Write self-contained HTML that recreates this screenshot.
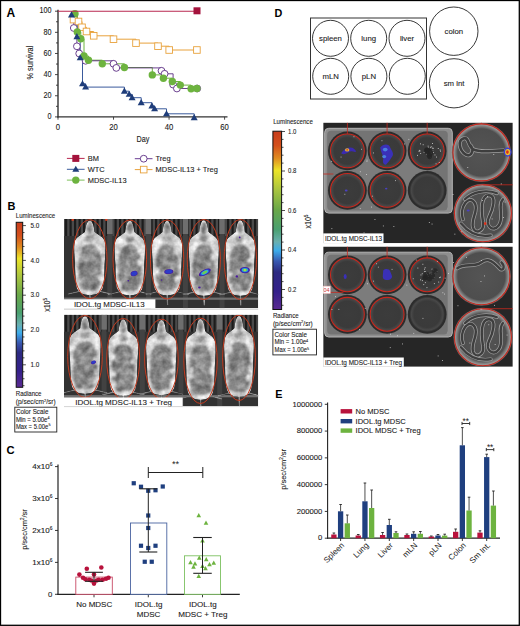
<!DOCTYPE html>
<html><head><meta charset="utf-8"><style>
html,body{margin:0;padding:0;background:#fff;}
svg{display:block;font-family:"Liberation Sans", sans-serif;}
</style></head><body>
<svg width="520" height="626" viewBox="0 0 520 626">
<rect x="0" y="0" width="520" height="626" fill="#fff"/>
<defs>
<linearGradient id="cbg" x1="0" y1="0" x2="0" y2="1">
<stop offset="0" stop-color="#c83c1c"/>
<stop offset="0.08" stop-color="#d4501c"/>
<stop offset="0.15" stop-color="#e08a20"/>
<stop offset="0.22" stop-color="#ece428"/>
<stop offset="0.33" stop-color="#a8c440"/>
<stop offset="0.44" stop-color="#6aa848"/>
<stop offset="0.55" stop-color="#4aa070"/>
<stop offset="0.62" stop-color="#6ab0b0"/>
<stop offset="0.67" stop-color="#3cacea"/>
<stop offset="0.73" stop-color="#3858b0"/>
<stop offset="0.79" stop-color="#2c2a80"/>
<stop offset="0.9" stop-color="#34208a"/>
<stop offset="1" stop-color="#5a2a92"/>
</linearGradient>
<linearGradient id="mouseh" x1="0" y1="0" x2="1" y2="0">
<stop offset="0" stop-color="#bdbdbd"/>
<stop offset="0.1" stop-color="#d8d8d8"/>
<stop offset="0.25" stop-color="#a8a8a8"/>
<stop offset="0.4" stop-color="#8c8c8c"/>
<stop offset="0.6" stop-color="#8c8c8c"/>
<stop offset="0.75" stop-color="#a8a8a8"/>
<stop offset="0.9" stop-color="#d8d8d8"/>
<stop offset="1" stop-color="#bdbdbd"/>
</linearGradient>
<linearGradient id="mousev" x1="0" y1="0" x2="0" y2="1">
<stop offset="0" stop-color="#fff" stop-opacity="0"/>
<stop offset="0.25" stop-color="#fff" stop-opacity="0.25"/>
<stop offset="0.4" stop-color="#fff" stop-opacity="0"/>
<stop offset="1" stop-color="#fff" stop-opacity="0"/>
</linearGradient>
<filter id="soft" x="-50%" y="-50%" width="200%" height="200%"><feGaussianBlur stdDeviation="1.1"/></filter>
<filter id="grain" x="-10%" y="-10%" width="120%" height="120%" color-interpolation-filters="sRGB">
<feTurbulence type="fractalNoise" baseFrequency="0.13" numOctaves="3" seed="5" result="n"/>
<feColorMatrix in="n" type="matrix" values="1 0 0 0 0  1 0 0 0 0  1 0 0 0 0  0 0 0 0 1" result="g"/>
<feComposite in="SourceGraphic" in2="g" operator="arithmetic" k1="0" k2="1" k3="0.44" k4="-0.22" result="m"/>
<feComposite in="m" in2="SourceAlpha" operator="in"/>
</filter>
<radialGradient id="spot" cx="0.5" cy="0.5" r="0.5">
<stop offset="0" stop-color="#a8e060"/>
<stop offset="0.3" stop-color="#40b0e0"/>
<stop offset="0.6" stop-color="#3040c0"/>
<stop offset="1" stop-color="#3a1890"/>
</radialGradient>
<radialGradient id="spot2" cx="0.5" cy="0.5" r="0.5">
<stop offset="0" stop-color="#5080e0"/>
<stop offset="0.5" stop-color="#3a30b0"/>
<stop offset="1" stop-color="#3a1890"/>
</radialGradient>
<radialGradient id="wellg" cx="0.5" cy="0.5" r="0.5">
<stop offset="0" stop-color="#3c3c3c"/>
<stop offset="0.75" stop-color="#3a3a3a"/>
<stop offset="0.9" stop-color="#484848"/>
<stop offset="1" stop-color="#303030"/>
</radialGradient>
<radialGradient id="dishg" cx="0.5" cy="0.5" r="0.5">
<stop offset="0" stop-color="#545454"/>
<stop offset="0.8" stop-color="#4e4e4e"/>
<stop offset="0.88" stop-color="#7a7a7a"/>
<stop offset="0.94" stop-color="#9a9a9a"/>
<stop offset="1" stop-color="#5a5a5a"/>
</radialGradient>
<clipPath id="cB1"><rect x="64" y="219" width="194.2" height="89.3"/></clipPath>
<clipPath id="cB2"><rect x="64" y="314.8" width="194.2" height="91.2"/></clipPath>
<clipPath id="cD1"><rect x="323.2" y="122.6" width="189.6" height="120.6"/></clipPath>
<clipPath id="cD2"><rect x="323.2" y="246.5" width="189.6" height="120.3"/></clipPath>
</defs>
<text transform="translate(6.60,16.58) scale(1.0,1)" font-size="12" text-anchor="start" fill="#000" font-weight="bold" stroke="#000" stroke-width="0">A</text>
<line x1="58" y1="9.7" x2="58" y2="117.60000000000001" stroke="#333" stroke-width="1.4"/>
<line x1="57.3" y1="116.9" x2="227.5" y2="116.9" stroke="#333" stroke-width="1.4"/>
<line x1="55" y1="116.90" x2="58" y2="116.90" stroke="#333" stroke-width="0.9"/>
<text transform="translate(51.60,119.12) scale(0.88,1)" font-size="8.2" text-anchor="end" fill="#1a1a1a" font-weight="normal" stroke="#1a1a1a" stroke-width="0.1">0</text>
<line x1="56" y1="106.33" x2="58" y2="106.33" stroke="#333" stroke-width="0.9"/>
<line x1="55" y1="95.76" x2="58" y2="95.76" stroke="#333" stroke-width="0.9"/>
<text transform="translate(51.60,97.98) scale(0.88,1)" font-size="8.2" text-anchor="end" fill="#1a1a1a" font-weight="normal" stroke="#1a1a1a" stroke-width="0.1">20</text>
<line x1="56" y1="85.19" x2="58" y2="85.19" stroke="#333" stroke-width="0.9"/>
<line x1="55" y1="74.62" x2="58" y2="74.62" stroke="#333" stroke-width="0.9"/>
<text transform="translate(51.60,76.84) scale(0.88,1)" font-size="8.2" text-anchor="end" fill="#1a1a1a" font-weight="normal" stroke="#1a1a1a" stroke-width="0.1">40</text>
<line x1="56" y1="64.05" x2="58" y2="64.05" stroke="#333" stroke-width="0.9"/>
<line x1="55" y1="53.48" x2="58" y2="53.48" stroke="#333" stroke-width="0.9"/>
<text transform="translate(51.60,55.70) scale(0.88,1)" font-size="8.2" text-anchor="end" fill="#1a1a1a" font-weight="normal" stroke="#1a1a1a" stroke-width="0.1">60</text>
<line x1="56" y1="42.91" x2="58" y2="42.91" stroke="#333" stroke-width="0.9"/>
<line x1="55" y1="32.34" x2="58" y2="32.34" stroke="#333" stroke-width="0.9"/>
<text transform="translate(51.60,34.56) scale(0.88,1)" font-size="8.2" text-anchor="end" fill="#1a1a1a" font-weight="normal" stroke="#1a1a1a" stroke-width="0.1">80</text>
<line x1="56" y1="21.77" x2="58" y2="21.77" stroke="#333" stroke-width="0.9"/>
<line x1="55" y1="11.20" x2="58" y2="11.20" stroke="#333" stroke-width="0.9"/>
<text transform="translate(51.60,13.42) scale(0.88,1)" font-size="8.2" text-anchor="end" fill="#1a1a1a" font-weight="normal" stroke="#1a1a1a" stroke-width="0.1">100</text>
<line x1="58.00" y1="116.9" x2="58.00" y2="119.7" stroke="#333" stroke-width="0.9"/>
<text transform="translate(58.00,129.72) scale(0.94,1)" font-size="8.2" text-anchor="middle" fill="#1a1a1a" font-weight="normal" stroke="#1a1a1a" stroke-width="0.1">0</text>
<line x1="113.53" y1="116.9" x2="113.53" y2="119.7" stroke="#333" stroke-width="0.9"/>
<text transform="translate(113.53,129.72) scale(0.94,1)" font-size="8.2" text-anchor="middle" fill="#1a1a1a" font-weight="normal" stroke="#1a1a1a" stroke-width="0.1">20</text>
<line x1="169.07" y1="116.9" x2="169.07" y2="119.7" stroke="#333" stroke-width="0.9"/>
<text transform="translate(169.07,129.72) scale(0.94,1)" font-size="8.2" text-anchor="middle" fill="#1a1a1a" font-weight="normal" stroke="#1a1a1a" stroke-width="0.1">40</text>
<line x1="224.60" y1="116.9" x2="224.60" y2="119.7" stroke="#333" stroke-width="0.9"/>
<text transform="translate(224.60,129.72) scale(0.94,1)" font-size="8.2" text-anchor="middle" fill="#1a1a1a" font-weight="normal" stroke="#1a1a1a" stroke-width="0.1">60</text>
<text transform="translate(143.00,142.36) scale(0.84,1)" font-size="8.6" text-anchor="middle" fill="#1a1a1a" font-weight="normal" stroke="#1a1a1a" stroke-width="0.1">Day</text>
<text transform="translate(32.90,62.70) rotate(-90) scale(0.86,1)" font-size="8.6" text-anchor="middle" fill="#1a1a1a" font-weight="normal" stroke="#1a1a1a" stroke-width="0.1">% survival</text>
<path d="M72.4,11.2 H73.5 V19.6 H78.5 V21.5 H82 V27.3 H86.5 V31.5 H93.7 V35.8 H113.5 V39.2 H136 V43.1 H158 V46.2 H169.2 V50 H196.9 V50" fill="none" stroke="#e8a23c" stroke-width="1"/>
<path d="M75,11.2 H75 V13.8 H77.3 V31.9 H80.8 V38.8 H84 V56 H88.5 V60.2 H102.3 V63.8 H124.4 V67.5 H152.3 V74.9 H163.4 V78.2 H172.3 V81.5 H180.3 V85.1 H191.1 V88.8 H196.9 V88.5" fill="none" stroke="#6db33f" stroke-width="1"/>
<path d="M73.8,11.2 H73.8 V28 H76.9 V46.3 H79.2 V53.5 H85.6 V60.8 H113.5 V63.8 H116.3 V67.9 H161.5 V70.8 H164.6 V73.8 H173.1 V84.6 H176.9 V88.5 H197.2 V88.5" fill="none" stroke="#5b2c83" stroke-width="0.9"/>
<path d="M71.5,11.2 H71.5 V15 H76.9 V36.7 H80.2 V57.9 H82.5 V83.8 H85.6 V87.1 H124.4 V91.2 H129.2 V94.4 H132.1 V97.7 H141.2 V102.7 H151.9 V106 H154.6 V108.8 H166.5 V113.8 H194.2 V117.2" fill="none" stroke="#3a5a9c" stroke-width="1"/>
<rect x="70.20" y="16.30" width="6.6" height="6.6" fill="#fff" stroke="#e8a23c" stroke-width="0.9"/>
<rect x="75.20" y="18.20" width="6.6" height="6.6" fill="#fff" stroke="#e8a23c" stroke-width="0.9"/>
<rect x="78.70" y="24.00" width="6.6" height="6.6" fill="#fff" stroke="#e8a23c" stroke-width="0.9"/>
<rect x="83.20" y="28.20" width="6.6" height="6.6" fill="#fff" stroke="#e8a23c" stroke-width="0.9"/>
<rect x="90.40" y="32.50" width="6.6" height="6.6" fill="#fff" stroke="#e8a23c" stroke-width="0.9"/>
<rect x="110.20" y="35.90" width="6.6" height="6.6" fill="#fff" stroke="#e8a23c" stroke-width="0.9"/>
<rect x="132.70" y="39.80" width="6.6" height="6.6" fill="#fff" stroke="#e8a23c" stroke-width="0.9"/>
<rect x="154.70" y="42.90" width="6.6" height="6.6" fill="#fff" stroke="#e8a23c" stroke-width="0.9"/>
<rect x="165.90" y="46.70" width="6.6" height="6.6" fill="#fff" stroke="#e8a23c" stroke-width="0.9"/>
<rect x="193.60" y="46.70" width="6.6" height="6.6" fill="#fff" stroke="#e8a23c" stroke-width="0.9"/>
<circle cx="73.8" cy="28" r="3.4" fill="#fff" stroke="#5b2c83" stroke-width="0.9"/>
<circle cx="76.9" cy="46.3" r="3.4" fill="#fff" stroke="#5b2c83" stroke-width="0.9"/>
<circle cx="79.2" cy="53.5" r="3.4" fill="#fff" stroke="#5b2c83" stroke-width="0.9"/>
<circle cx="85.6" cy="60.8" r="3.4" fill="#fff" stroke="#5b2c83" stroke-width="0.9"/>
<circle cx="113.5" cy="63.8" r="3.4" fill="#fff" stroke="#5b2c83" stroke-width="0.9"/>
<circle cx="116.3" cy="67.9" r="3.4" fill="#fff" stroke="#5b2c83" stroke-width="0.9"/>
<circle cx="161.5" cy="70.8" r="3.4" fill="#fff" stroke="#5b2c83" stroke-width="0.9"/>
<circle cx="164.6" cy="73.8" r="3.4" fill="#fff" stroke="#5b2c83" stroke-width="0.9"/>
<circle cx="173.1" cy="84.6" r="3.4" fill="#fff" stroke="#5b2c83" stroke-width="0.9"/>
<circle cx="176.9" cy="88.5" r="3.4" fill="#fff" stroke="#5b2c83" stroke-width="0.9"/>
<circle cx="197.2" cy="88.5" r="3.4" fill="#fff" stroke="#5b2c83" stroke-width="0.9"/>
<circle cx="75" cy="13.8" r="3.7" fill="#6db33f"/>
<circle cx="77.3" cy="31.9" r="3.7" fill="#6db33f"/>
<circle cx="80.8" cy="38.8" r="3.7" fill="#6db33f"/>
<circle cx="84" cy="56" r="3.7" fill="#6db33f"/>
<circle cx="88.5" cy="60.2" r="3.7" fill="#6db33f"/>
<circle cx="102.3" cy="63.8" r="3.7" fill="#6db33f"/>
<circle cx="124.4" cy="67.5" r="3.7" fill="#6db33f"/>
<circle cx="152.3" cy="74.9" r="3.7" fill="#6db33f"/>
<circle cx="163.4" cy="78.2" r="3.7" fill="#6db33f"/>
<circle cx="172.3" cy="81.5" r="3.7" fill="#6db33f"/>
<circle cx="180.3" cy="85.1" r="3.7" fill="#6db33f"/>
<circle cx="191.1" cy="88.8" r="3.7" fill="#6db33f"/>
<circle cx="196.9" cy="88.5" r="3.7" fill="#6db33f"/>
<path d="M71.50,11.35 L75.00,17.44 L68.00,17.44Z" fill="#1f3d7a"/>
<path d="M76.90,33.05 L80.40,39.14 L73.40,39.14Z" fill="#1f3d7a"/>
<path d="M80.20,54.25 L83.70,60.34 L76.70,60.34Z" fill="#1f3d7a"/>
<path d="M82.50,80.15 L86.00,86.24 L79.00,86.24Z" fill="#1f3d7a"/>
<path d="M85.60,83.45 L89.10,89.54 L82.10,89.54Z" fill="#1f3d7a"/>
<path d="M124.40,87.55 L127.90,93.64 L120.90,93.64Z" fill="#1f3d7a"/>
<path d="M129.20,90.75 L132.70,96.84 L125.70,96.84Z" fill="#1f3d7a"/>
<path d="M132.10,94.05 L135.60,100.14 L128.60,100.14Z" fill="#1f3d7a"/>
<path d="M141.20,99.05 L144.70,105.14 L137.70,105.14Z" fill="#1f3d7a"/>
<path d="M151.90,102.35 L155.40,108.44 L148.40,108.44Z" fill="#1f3d7a"/>
<path d="M154.60,105.15 L158.10,111.24 L151.10,111.24Z" fill="#1f3d7a"/>
<path d="M166.50,110.15 L170.00,116.24 L163.00,116.24Z" fill="#1f3d7a"/>
<path d="M194.20,114.05 L197.70,120.14 L190.70,120.14Z" fill="#1f3d7a"/>
<line x1="58" y1="11.2" x2="197" y2="11.2" stroke="#b8274f" stroke-width="1.1"/>
<rect x="193.5" y="7.3" width="7" height="7" fill="#a4133c"/>
<line x1="66.9" y1="158.4" x2="84.60000000000001" y2="158.4" stroke="#b8274f" stroke-width="1"/>
<rect x="72.30000000000001" y="154.9" width="7" height="7" fill="#a4133c"/>
<text transform="translate(87.70,160.84) scale(1.05,1)" font-size="7.1" text-anchor="start" fill="#1a1a1a" font-weight="normal" stroke="#1a1a1a" stroke-width="0.1">BM</text>
<line x1="66.9" y1="169.3" x2="84.60000000000001" y2="169.3" stroke="#3a5a9c" stroke-width="1"/>
<path d="M75.80,165.65 L79.30,171.74 L72.30,171.74Z" fill="#1f3d7a"/>
<text transform="translate(87.70,171.74) scale(1.05,1)" font-size="7.1" text-anchor="start" fill="#1a1a1a" font-weight="normal" stroke="#1a1a1a" stroke-width="0.1">WTC</text>
<line x1="66.9" y1="180.1" x2="84.60000000000001" y2="180.1" stroke="#7cc05a" stroke-width="1"/>
<circle cx="75.80000000000001" cy="180.1" r="3.7" fill="#6db33f"/>
<text transform="translate(87.70,182.54) scale(1.05,1)" font-size="7.1" text-anchor="start" fill="#1a1a1a" font-weight="normal" stroke="#1a1a1a" stroke-width="0.1">MDSC-IL13</text>
<line x1="134.8" y1="158.7" x2="152.5" y2="158.7" stroke="#6b3d93" stroke-width="1"/>
<circle cx="143.70000000000002" cy="158.7" r="3.4" fill="#fff" stroke="#5b2c83" stroke-width="0.9"/>
<text transform="translate(155.60,161.14) scale(1.05,1)" font-size="7.1" text-anchor="start" fill="#1a1a1a" font-weight="normal" stroke="#1a1a1a" stroke-width="0.1">Treg</text>
<line x1="134.8" y1="169.6" x2="152.5" y2="169.6" stroke="#e8a23c" stroke-width="1"/>
<rect x="140.4" y="166.29999999999998" width="6.6" height="6.6" fill="#fff" stroke="#e8a23c" stroke-width="0.9"/>
<text transform="translate(155.60,172.04) scale(1.05,1)" font-size="7.1" text-anchor="start" fill="#1a1a1a" font-weight="normal" stroke="#1a1a1a" stroke-width="0.1">MDSC-IL13 + Treg</text>
<text transform="translate(7.40,209.78) scale(1.0,1)" font-size="11" text-anchor="start" fill="#000" font-weight="bold" stroke="#000" stroke-width="0">B</text>
<text transform="translate(15.80,218.18) scale(0.85,1)" font-size="7.2" text-anchor="start" fill="#222" font-weight="normal" stroke="#222" stroke-width="0.1">Luminescence</text>
<rect x="16.2" y="222.3" width="6.5" height="165.0" fill="url(#cbg)" stroke="#111" stroke-width="1"/>
<line x1="22.7" y1="225.60" x2="25.9" y2="225.60" stroke="#222" stroke-width="0.8"/>
<text transform="translate(30.50,227.81) scale(0.91,1)" font-size="7.0" text-anchor="start" fill="#222" font-weight="normal" stroke="#222" stroke-width="0.1">5.0</text>
<line x1="22.7" y1="232.56" x2="24.5" y2="232.56" stroke="#222" stroke-width="0.8"/>
<line x1="22.7" y1="239.52" x2="24.5" y2="239.52" stroke="#222" stroke-width="0.8"/>
<line x1="22.7" y1="246.48" x2="24.5" y2="246.48" stroke="#222" stroke-width="0.8"/>
<line x1="22.7" y1="253.44" x2="24.5" y2="253.44" stroke="#222" stroke-width="0.8"/>
<line x1="22.7" y1="260.40" x2="25.9" y2="260.40" stroke="#222" stroke-width="0.8"/>
<text transform="translate(30.50,262.61) scale(0.91,1)" font-size="7.0" text-anchor="start" fill="#222" font-weight="normal" stroke="#222" stroke-width="0.1">4.0</text>
<line x1="22.7" y1="267.36" x2="24.5" y2="267.36" stroke="#222" stroke-width="0.8"/>
<line x1="22.7" y1="274.32" x2="24.5" y2="274.32" stroke="#222" stroke-width="0.8"/>
<line x1="22.7" y1="281.28" x2="24.5" y2="281.28" stroke="#222" stroke-width="0.8"/>
<line x1="22.7" y1="288.24" x2="24.5" y2="288.24" stroke="#222" stroke-width="0.8"/>
<line x1="22.7" y1="295.20" x2="25.9" y2="295.20" stroke="#222" stroke-width="0.8"/>
<text transform="translate(30.50,297.41) scale(0.91,1)" font-size="7.0" text-anchor="start" fill="#222" font-weight="normal" stroke="#222" stroke-width="0.1">3.0</text>
<line x1="22.7" y1="302.16" x2="24.5" y2="302.16" stroke="#222" stroke-width="0.8"/>
<line x1="22.7" y1="309.12" x2="24.5" y2="309.12" stroke="#222" stroke-width="0.8"/>
<line x1="22.7" y1="316.08" x2="24.5" y2="316.08" stroke="#222" stroke-width="0.8"/>
<line x1="22.7" y1="323.04" x2="24.5" y2="323.04" stroke="#222" stroke-width="0.8"/>
<line x1="22.7" y1="330.00" x2="25.9" y2="330.00" stroke="#222" stroke-width="0.8"/>
<text transform="translate(30.50,332.21) scale(0.91,1)" font-size="7.0" text-anchor="start" fill="#222" font-weight="normal" stroke="#222" stroke-width="0.1">2.0</text>
<line x1="22.7" y1="336.96" x2="24.5" y2="336.96" stroke="#222" stroke-width="0.8"/>
<line x1="22.7" y1="343.92" x2="24.5" y2="343.92" stroke="#222" stroke-width="0.8"/>
<line x1="22.7" y1="350.88" x2="24.5" y2="350.88" stroke="#222" stroke-width="0.8"/>
<line x1="22.7" y1="357.84" x2="24.5" y2="357.84" stroke="#222" stroke-width="0.8"/>
<line x1="22.7" y1="364.80" x2="25.9" y2="364.80" stroke="#222" stroke-width="0.8"/>
<text transform="translate(30.50,367.01) scale(0.91,1)" font-size="7.0" text-anchor="start" fill="#222" font-weight="normal" stroke="#222" stroke-width="0.1">1.0</text>
<line x1="22.7" y1="371.76" x2="24.5" y2="371.76" stroke="#222" stroke-width="0.8"/>
<line x1="22.7" y1="378.72" x2="24.5" y2="378.72" stroke="#222" stroke-width="0.8"/>
<line x1="22.7" y1="385.68" x2="24.5" y2="385.68" stroke="#222" stroke-width="0.8"/>
<text transform="translate(50.00,305.00) rotate(-90) scale(0.85,1)" font-size="8.3" text-anchor="middle" fill="#222" font-weight="normal" stroke="#222" stroke-width="0.1">x10<tspan font-size="5" dy="-3">5</tspan></text>
<text transform="translate(15.80,396.41) scale(0.87,1)" font-size="7.0" text-anchor="start" fill="#222" font-weight="normal" stroke="#222" stroke-width="0.1">Radiance</text>
<text transform="translate(15.80,404.31) scale(0.93,1)" font-size="7.0" text-anchor="start" fill="#222" font-weight="normal" stroke="#222" stroke-width="0.1">(p/sec/cm<tspan font-size="4.4" dy="-2.6">2</tspan><tspan dy="2.6">/sr)</tspan></text>
<rect x="14.8" y="407.2" width="42" height="24.8" fill="#fff" stroke="#222" stroke-width="0.9"/>
<text transform="translate(15.90,414.21) scale(0.9,1)" font-size="7.0" text-anchor="start" fill="#1a1a1a" font-weight="normal" stroke="#1a1a1a" stroke-width="0.1">Color Scale</text>
<text transform="translate(15.90,421.51) scale(0.86,1)" font-size="7.0" text-anchor="start" fill="#1a1a1a" font-weight="normal" stroke="#1a1a1a" stroke-width="0.1">Min = 5.00e<tspan font-size="4.4" dy="-2.6">4</tspan></text>
<text transform="translate(15.90,428.91) scale(0.84,1)" font-size="7.0" text-anchor="start" fill="#1a1a1a" font-weight="normal" stroke="#1a1a1a" stroke-width="0.1">Max = 5.00e<tspan font-size="4.4" dy="-2.6">5</tspan></text>
<g clip-path="url(#cB1)">
<rect x="64" y="219" width="194.2" height="89.3" fill="#323232"/>
<rect x="64" y="219" width="194.2" height="17" fill="#4a4a4a"/>
<rect x="65.0" y="219" width="2.2" height="17" fill="#1c1c1c"/>
<rect x="69.5" y="219" width="2.2" height="17" fill="#1c1c1c"/>
<rect x="74.0" y="219" width="2.2" height="17" fill="#1c1c1c"/>
<rect x="78.5" y="219" width="2.2" height="17" fill="#1c1c1c"/>
<rect x="83.0" y="219" width="2.2" height="17" fill="#1c1c1c"/>
<rect x="87.5" y="219" width="2.2" height="17" fill="#1c1c1c"/>
<rect x="92.0" y="219" width="2.2" height="17" fill="#1c1c1c"/>
<rect x="96.5" y="219" width="2.2" height="17" fill="#1c1c1c"/>
<rect x="101.0" y="219" width="2.2" height="17" fill="#1c1c1c"/>
<rect x="105.5" y="219" width="2.2" height="17" fill="#1c1c1c"/>
<rect x="110.0" y="219" width="2.2" height="17" fill="#1c1c1c"/>
<rect x="114.5" y="219" width="2.2" height="17" fill="#1c1c1c"/>
<rect x="119.0" y="219" width="2.2" height="17" fill="#1c1c1c"/>
<rect x="123.5" y="219" width="2.2" height="17" fill="#1c1c1c"/>
<rect x="128.0" y="219" width="2.2" height="17" fill="#1c1c1c"/>
<rect x="132.5" y="219" width="2.2" height="17" fill="#1c1c1c"/>
<rect x="137.0" y="219" width="2.2" height="17" fill="#1c1c1c"/>
<rect x="141.5" y="219" width="2.2" height="17" fill="#1c1c1c"/>
<rect x="146.0" y="219" width="2.2" height="17" fill="#1c1c1c"/>
<rect x="150.5" y="219" width="2.2" height="17" fill="#1c1c1c"/>
<rect x="155.0" y="219" width="2.2" height="17" fill="#1c1c1c"/>
<rect x="159.5" y="219" width="2.2" height="17" fill="#1c1c1c"/>
<rect x="164.0" y="219" width="2.2" height="17" fill="#1c1c1c"/>
<rect x="168.5" y="219" width="2.2" height="17" fill="#1c1c1c"/>
<rect x="173.0" y="219" width="2.2" height="17" fill="#1c1c1c"/>
<rect x="177.5" y="219" width="2.2" height="17" fill="#1c1c1c"/>
<rect x="182.0" y="219" width="2.2" height="17" fill="#1c1c1c"/>
<rect x="186.5" y="219" width="2.2" height="17" fill="#1c1c1c"/>
<rect x="191.0" y="219" width="2.2" height="17" fill="#1c1c1c"/>
<rect x="195.5" y="219" width="2.2" height="17" fill="#1c1c1c"/>
<rect x="200.0" y="219" width="2.2" height="17" fill="#1c1c1c"/>
<rect x="204.5" y="219" width="2.2" height="17" fill="#1c1c1c"/>
<rect x="209.0" y="219" width="2.2" height="17" fill="#1c1c1c"/>
<rect x="213.5" y="219" width="2.2" height="17" fill="#1c1c1c"/>
<rect x="218.0" y="219" width="2.2" height="17" fill="#1c1c1c"/>
<rect x="222.5" y="219" width="2.2" height="17" fill="#1c1c1c"/>
<rect x="227.0" y="219" width="2.2" height="17" fill="#1c1c1c"/>
<rect x="231.5" y="219" width="2.2" height="17" fill="#1c1c1c"/>
<rect x="236.0" y="219" width="2.2" height="17" fill="#1c1c1c"/>
<rect x="240.5" y="219" width="2.2" height="17" fill="#1c1c1c"/>
<rect x="245.0" y="219" width="2.2" height="17" fill="#1c1c1c"/>
<rect x="249.5" y="219" width="2.2" height="17" fill="#1c1c1c"/>
<rect x="254.0" y="219" width="2.2" height="17" fill="#1c1c1c"/>
<rect x="107.0" y="219" width="5.6" height="15" fill="#6e6e6e"/>
<rect x="107.3" y="234" width="5" height="74.3" fill="#424242"/>
<rect x="145.6" y="219" width="5.6" height="15" fill="#6e6e6e"/>
<rect x="145.9" y="234" width="5" height="74.3" fill="#424242"/>
<rect x="182.6" y="219" width="5.6" height="15" fill="#6e6e6e"/>
<rect x="182.9" y="234" width="5" height="74.3" fill="#424242"/>
<rect x="219.2" y="219" width="5.6" height="15" fill="#6e6e6e"/>
<rect x="219.6" y="234" width="5" height="74.3" fill="#424242"/>
<rect x="64" y="297.6" width="194.2" height="2.2" fill="#707070"/>
<g filter="url(#grain)">
<path d="M89.8,293.0 L90.3,305.0" stroke="#8a8a8a" stroke-width="1.8"/>
<path d="M80.2,291.3 L67.4,294.3 M99.4,291.3 L112.2,294.3" stroke="#7a7a7a" stroke-width="1.4"/>
<g transform="translate(89.80,220.50) scale(16.00,74.50)"><path d="M0,0 C0.18,0 0.26,0.08 0.3,0.15 C0.5,0.19 0.8,0.21 0.93,0.27 C1.02,0.33 0.97,0.45 0.93,0.58 C0.9,0.74 0.91,0.85 0.79,0.92 C0.6,0.99 0.3,1.0 0,1.0 C-0.3,1.0 -0.6,0.99 -0.79,0.92 C-0.91,0.85 -0.9,0.74 -0.93,0.58 C-0.97,0.45 -1.02,0.33 -0.93,0.27 C-0.8,0.21 -0.5,0.19 -0.3,0.15 C-0.26,0.08 -0.18,0 0,0 Z" fill="#d6d6d6"/></g>
<g filter="url(#soft)">
<g transform="translate(89.80,220.50) scale(16.00,74.50)"><path d="M0,0.32 C0.38,0.32 0.66,0.38 0.7,0.52 C0.76,0.66 0.74,0.8 0.6,0.9 C0.44,0.95 0.2,0.94 0,0.94 C-0.2,0.94 -0.44,0.95 -0.6,0.9 C-0.74,0.8 -0.76,0.66 -0.7,0.52 C-0.66,0.38 -0.38,0.32 0,0.32 Z" fill="#858585"/></g>
<ellipse cx="89.80" cy="227.95" rx="2.88" ry="5.96" fill="#888"/>
<ellipse cx="89.80" cy="238.38" rx="4.48" ry="3.35" fill="#a0a0a0"/>
<ellipse cx="100.93" cy="277.93" rx="2.50" ry="3.34" fill="#dadada"/>
<ellipse cx="78.71" cy="281.60" rx="1.84" ry="2.31" fill="#dadada"/>
<ellipse cx="79.30" cy="254.52" rx="1.84" ry="3.05" fill="#dadada"/>
<ellipse cx="79.78" cy="250.79" rx="1.87" ry="3.60" fill="#dadada"/>
<ellipse cx="93.20" cy="258.78" rx="2.94" ry="2.44" fill="#9a9a9a"/>
<ellipse cx="91.30" cy="257.80" rx="1.92" ry="3.53" fill="#9a9a9a"/>
<ellipse cx="86.08" cy="260.45" rx="3.18" ry="3.53" fill="#9a9a9a"/>
</g>
<path d="M129.8,293.3 L130.3,305.3" stroke="#8a8a8a" stroke-width="1.8"/>
<path d="M120.4,291.6 L108.0,294.6 M139.2,291.6 L151.6,294.6" stroke="#7a7a7a" stroke-width="1.4"/>
<g transform="translate(129.80,220.80) scale(15.60,74.50)"><path d="M0,0 C0.18,0 0.26,0.08 0.3,0.15 C0.5,0.19 0.8,0.21 0.93,0.27 C1.02,0.33 0.97,0.45 0.93,0.58 C0.9,0.74 0.91,0.85 0.79,0.92 C0.6,0.99 0.3,1.0 0,1.0 C-0.3,1.0 -0.6,0.99 -0.79,0.92 C-0.91,0.85 -0.9,0.74 -0.93,0.58 C-0.97,0.45 -1.02,0.33 -0.93,0.27 C-0.8,0.21 -0.5,0.19 -0.3,0.15 C-0.26,0.08 -0.18,0 0,0 Z" fill="#d6d6d6"/></g>
<g filter="url(#soft)">
<g transform="translate(129.80,220.80) scale(15.60,74.50)"><path d="M0,0.32 C0.38,0.32 0.66,0.38 0.7,0.52 C0.76,0.66 0.74,0.8 0.6,0.9 C0.44,0.95 0.2,0.94 0,0.94 C-0.2,0.94 -0.44,0.95 -0.6,0.9 C-0.74,0.8 -0.76,0.66 -0.7,0.52 C-0.66,0.38 -0.38,0.32 0,0.32 Z" fill="#858585"/></g>
<ellipse cx="129.80" cy="228.25" rx="2.81" ry="5.96" fill="#888"/>
<ellipse cx="129.80" cy="238.68" rx="4.37" ry="3.35" fill="#a0a0a0"/>
<ellipse cx="139.53" cy="262.28" rx="2.38" ry="3.17" fill="#dadada"/>
<ellipse cx="119.15" cy="285.65" rx="2.46" ry="3.57" fill="#dadada"/>
<ellipse cx="139.94" cy="251.40" rx="2.44" ry="2.63" fill="#dadada"/>
<ellipse cx="140.29" cy="261.83" rx="1.56" ry="3.25" fill="#dadada"/>
<ellipse cx="127.78" cy="263.56" rx="2.89" ry="2.95" fill="#9a9a9a"/>
<ellipse cx="127.50" cy="268.67" rx="2.75" ry="2.32" fill="#9a9a9a"/>
<ellipse cx="135.73" cy="255.01" rx="2.81" ry="3.49" fill="#9a9a9a"/>
</g>
<path d="M167.1,293.3 L167.6,305.3" stroke="#8a8a8a" stroke-width="1.8"/>
<path d="M157.8,291.6 L145.4,294.6 M176.4,291.6 L188.8,294.6" stroke="#7a7a7a" stroke-width="1.4"/>
<g transform="translate(167.10,220.80) scale(15.50,74.50)"><path d="M0,0 C0.18,0 0.26,0.08 0.3,0.15 C0.5,0.19 0.8,0.21 0.93,0.27 C1.02,0.33 0.97,0.45 0.93,0.58 C0.9,0.74 0.91,0.85 0.79,0.92 C0.6,0.99 0.3,1.0 0,1.0 C-0.3,1.0 -0.6,0.99 -0.79,0.92 C-0.91,0.85 -0.9,0.74 -0.93,0.58 C-0.97,0.45 -1.02,0.33 -0.93,0.27 C-0.8,0.21 -0.5,0.19 -0.3,0.15 C-0.26,0.08 -0.18,0 0,0 Z" fill="#d6d6d6"/></g>
<g filter="url(#soft)">
<g transform="translate(167.10,220.80) scale(15.50,74.50)"><path d="M0,0.32 C0.38,0.32 0.66,0.38 0.7,0.52 C0.76,0.66 0.74,0.8 0.6,0.9 C0.44,0.95 0.2,0.94 0,0.94 C-0.2,0.94 -0.44,0.95 -0.6,0.9 C-0.74,0.8 -0.76,0.66 -0.7,0.52 C-0.66,0.38 -0.38,0.32 0,0.32 Z" fill="#858585"/></g>
<ellipse cx="167.10" cy="228.25" rx="2.79" ry="5.96" fill="#888"/>
<ellipse cx="167.10" cy="238.68" rx="4.34" ry="3.35" fill="#a0a0a0"/>
<ellipse cx="157.02" cy="271.05" rx="1.90" ry="3.49" fill="#dadada"/>
<ellipse cx="176.74" cy="252.34" rx="2.44" ry="2.53" fill="#dadada"/>
<ellipse cx="156.05" cy="285.23" rx="1.87" ry="2.76" fill="#dadada"/>
<ellipse cx="176.60" cy="279.49" rx="2.25" ry="3.42" fill="#dadada"/>
<ellipse cx="171.56" cy="255.42" rx="3.03" ry="2.37" fill="#9a9a9a"/>
<ellipse cx="165.13" cy="272.53" rx="3.00" ry="2.74" fill="#9a9a9a"/>
<ellipse cx="172.36" cy="270.57" rx="2.25" ry="2.71" fill="#9a9a9a"/>
</g>
<path d="M203.8,293.8 L204.3,305.8" stroke="#8a8a8a" stroke-width="1.8"/>
<path d="M194.6,292.0 L182.2,295.0 M213.0,292.0 L225.4,295.0" stroke="#7a7a7a" stroke-width="1.4"/>
<g transform="translate(203.80,220.30) scale(15.40,75.50)"><path d="M0,0 C0.18,0 0.26,0.08 0.3,0.15 C0.5,0.19 0.8,0.21 0.93,0.27 C1.02,0.33 0.97,0.45 0.93,0.58 C0.9,0.74 0.91,0.85 0.79,0.92 C0.6,0.99 0.3,1.0 0,1.0 C-0.3,1.0 -0.6,0.99 -0.79,0.92 C-0.91,0.85 -0.9,0.74 -0.93,0.58 C-0.97,0.45 -1.02,0.33 -0.93,0.27 C-0.8,0.21 -0.5,0.19 -0.3,0.15 C-0.26,0.08 -0.18,0 0,0 Z" fill="#d6d6d6"/></g>
<g filter="url(#soft)">
<g transform="translate(203.80,220.30) scale(15.40,75.50)"><path d="M0,0.32 C0.38,0.32 0.66,0.38 0.7,0.52 C0.76,0.66 0.74,0.8 0.6,0.9 C0.44,0.95 0.2,0.94 0,0.94 C-0.2,0.94 -0.44,0.95 -0.6,0.9 C-0.74,0.8 -0.76,0.66 -0.7,0.52 C-0.66,0.38 -0.38,0.32 0,0.32 Z" fill="#858585"/></g>
<ellipse cx="203.80" cy="227.85" rx="2.77" ry="6.04" fill="#888"/>
<ellipse cx="203.80" cy="238.42" rx="4.31" ry="3.40" fill="#a0a0a0"/>
<ellipse cx="193.40" cy="280.65" rx="2.21" ry="2.73" fill="#dadada"/>
<ellipse cx="213.13" cy="256.60" rx="2.45" ry="3.07" fill="#dadada"/>
<ellipse cx="214.41" cy="251.70" rx="1.86" ry="2.64" fill="#dadada"/>
<ellipse cx="214.85" cy="256.00" rx="2.13" ry="3.48" fill="#dadada"/>
<ellipse cx="201.76" cy="260.53" rx="3.06" ry="3.12" fill="#9a9a9a"/>
<ellipse cx="199.28" cy="281.35" rx="2.36" ry="2.52" fill="#9a9a9a"/>
<ellipse cx="202.24" cy="256.05" rx="2.37" ry="2.48" fill="#9a9a9a"/>
</g>
<path d="M240.3,293.8 L240.8,305.8" stroke="#8a8a8a" stroke-width="1.8"/>
<path d="M231.3,292.0 L219.3,295.0 M249.3,292.0 L261.3,295.0" stroke="#7a7a7a" stroke-width="1.4"/>
<g transform="translate(240.30,220.30) scale(15.00,75.50)"><path d="M0,0 C0.18,0 0.26,0.08 0.3,0.15 C0.5,0.19 0.8,0.21 0.93,0.27 C1.02,0.33 0.97,0.45 0.93,0.58 C0.9,0.74 0.91,0.85 0.79,0.92 C0.6,0.99 0.3,1.0 0,1.0 C-0.3,1.0 -0.6,0.99 -0.79,0.92 C-0.91,0.85 -0.9,0.74 -0.93,0.58 C-0.97,0.45 -1.02,0.33 -0.93,0.27 C-0.8,0.21 -0.5,0.19 -0.3,0.15 C-0.26,0.08 -0.18,0 0,0 Z" fill="#d6d6d6"/></g>
<g filter="url(#soft)">
<g transform="translate(240.30,220.30) scale(15.00,75.50)"><path d="M0,0.32 C0.38,0.32 0.66,0.38 0.7,0.52 C0.76,0.66 0.74,0.8 0.6,0.9 C0.44,0.95 0.2,0.94 0,0.94 C-0.2,0.94 -0.44,0.95 -0.6,0.9 C-0.74,0.8 -0.76,0.66 -0.7,0.52 C-0.66,0.38 -0.38,0.32 0,0.32 Z" fill="#858585"/></g>
<ellipse cx="240.30" cy="227.85" rx="2.70" ry="6.04" fill="#888"/>
<ellipse cx="240.30" cy="238.42" rx="4.20" ry="3.40" fill="#a0a0a0"/>
<ellipse cx="230.48" cy="287.34" rx="1.94" ry="3.37" fill="#dadada"/>
<ellipse cx="250.15" cy="260.84" rx="2.31" ry="2.43" fill="#dadada"/>
<ellipse cx="230.40" cy="274.17" rx="1.80" ry="2.40" fill="#dadada"/>
<ellipse cx="250.29" cy="269.95" rx="1.95" ry="2.36" fill="#dadada"/>
<ellipse cx="243.84" cy="265.02" rx="2.50" ry="2.32" fill="#9a9a9a"/>
<ellipse cx="237.97" cy="271.17" rx="2.60" ry="3.53" fill="#9a9a9a"/>
<ellipse cx="237.48" cy="283.90" rx="2.66" ry="3.71" fill="#9a9a9a"/>
</g>
</g>
<g transform="translate(134.1,273.5) rotate(-20)">
<ellipse cx="0" cy="0" rx="3.60" ry="2.60" fill="#4a1c9c"/>
<ellipse cx="0" cy="0" rx="2.92" ry="2.11" fill="#2c3cc8"/>
</g>
<g transform="translate(128.3,280.8) rotate(0)">
<ellipse cx="0" cy="0" rx="0.90" ry="0.80" fill="#4a1c9c"/>
</g>
<g transform="translate(168.8,271.6) rotate(-5)">
<ellipse cx="0" cy="0" rx="4.60" ry="2.40" fill="#4a1c9c"/>
<ellipse cx="0" cy="0" rx="3.73" ry="1.94" fill="#2c3cc8"/>
</g>
<g transform="translate(161.6,280) rotate(0)">
<ellipse cx="0" cy="0" rx="0.80" ry="0.80" fill="#4a1c9c"/>
</g>
<g transform="translate(204.8,272.4) rotate(-28)">
<ellipse cx="0" cy="0" rx="6.60" ry="2.80" fill="#4a1c9c"/>
<ellipse cx="0" cy="0" rx="5.35" ry="2.27" fill="#2c3cc8"/>
<ellipse cx="0" cy="0" rx="4.09" ry="1.74" fill="#2aa8e0"/>
<ellipse cx="0" cy="0" rx="2.84" ry="1.20" fill="#70cc50"/>
</g>
<g transform="translate(199.4,287.6) rotate(0)">
<ellipse cx="0" cy="0" rx="1.30" ry="1.00" fill="#4a1c9c"/>
</g>
<g transform="translate(244.9,270.1) rotate(0)">
<ellipse cx="0" cy="0" rx="5.00" ry="3.20" fill="#4a1c9c"/>
<ellipse cx="0" cy="0" rx="4.05" ry="2.59" fill="#2c3cc8"/>
<ellipse cx="0" cy="0" rx="3.10" ry="1.98" fill="#2aa8e0"/>
<ellipse cx="0" cy="0" rx="2.15" ry="1.38" fill="#70cc50"/>
<ellipse cx="0" cy="0" rx="1.20" ry="0.77" fill="#d8e040"/>
</g>
<g transform="translate(236.8,276.4) rotate(0)">
<ellipse cx="0" cy="0" rx="1.20" ry="1.20" fill="#4a1c9c"/>
</g>
<g transform="translate(239.7,237.4) rotate(0)">
<ellipse cx="0" cy="0" rx="0.90" ry="0.90" fill="#4a1c9c"/>
</g>
<ellipse cx="89.80" cy="259.20" rx="17.20" ry="39.50" fill="none" stroke="#c43c20" stroke-width="1"/>
<ellipse cx="129.80" cy="259.50" rx="16.80" ry="39.50" fill="none" stroke="#c43c20" stroke-width="1"/>
<ellipse cx="167.10" cy="259.50" rx="16.70" ry="39.50" fill="none" stroke="#c43c20" stroke-width="1"/>
<ellipse cx="203.80" cy="259.50" rx="16.60" ry="40.00" fill="none" stroke="#c43c20" stroke-width="1"/>
<ellipse cx="240.30" cy="259.50" rx="16.20" ry="40.00" fill="none" stroke="#c43c20" stroke-width="1"/>
</g>
<rect x="71.6" y="219" width="2.2" height="1.8" fill="#e04020"/><rect x="105.2" y="219" width="2.2" height="1.8" fill="#e04020"/>
<g clip-path="url(#cB2)">
<rect x="64" y="314.8" width="194.2" height="91.2" fill="#323232"/>
<rect x="64" y="314.8" width="194.2" height="17" fill="#4a4a4a"/>
<rect x="65.0" y="314.8" width="2.2" height="17" fill="#1c1c1c"/>
<rect x="69.5" y="314.8" width="2.2" height="17" fill="#1c1c1c"/>
<rect x="74.0" y="314.8" width="2.2" height="17" fill="#1c1c1c"/>
<rect x="78.5" y="314.8" width="2.2" height="17" fill="#1c1c1c"/>
<rect x="83.0" y="314.8" width="2.2" height="17" fill="#1c1c1c"/>
<rect x="87.5" y="314.8" width="2.2" height="17" fill="#1c1c1c"/>
<rect x="92.0" y="314.8" width="2.2" height="17" fill="#1c1c1c"/>
<rect x="96.5" y="314.8" width="2.2" height="17" fill="#1c1c1c"/>
<rect x="101.0" y="314.8" width="2.2" height="17" fill="#1c1c1c"/>
<rect x="105.5" y="314.8" width="2.2" height="17" fill="#1c1c1c"/>
<rect x="110.0" y="314.8" width="2.2" height="17" fill="#1c1c1c"/>
<rect x="114.5" y="314.8" width="2.2" height="17" fill="#1c1c1c"/>
<rect x="119.0" y="314.8" width="2.2" height="17" fill="#1c1c1c"/>
<rect x="123.5" y="314.8" width="2.2" height="17" fill="#1c1c1c"/>
<rect x="128.0" y="314.8" width="2.2" height="17" fill="#1c1c1c"/>
<rect x="132.5" y="314.8" width="2.2" height="17" fill="#1c1c1c"/>
<rect x="137.0" y="314.8" width="2.2" height="17" fill="#1c1c1c"/>
<rect x="141.5" y="314.8" width="2.2" height="17" fill="#1c1c1c"/>
<rect x="146.0" y="314.8" width="2.2" height="17" fill="#1c1c1c"/>
<rect x="150.5" y="314.8" width="2.2" height="17" fill="#1c1c1c"/>
<rect x="155.0" y="314.8" width="2.2" height="17" fill="#1c1c1c"/>
<rect x="159.5" y="314.8" width="2.2" height="17" fill="#1c1c1c"/>
<rect x="164.0" y="314.8" width="2.2" height="17" fill="#1c1c1c"/>
<rect x="168.5" y="314.8" width="2.2" height="17" fill="#1c1c1c"/>
<rect x="173.0" y="314.8" width="2.2" height="17" fill="#1c1c1c"/>
<rect x="177.5" y="314.8" width="2.2" height="17" fill="#1c1c1c"/>
<rect x="182.0" y="314.8" width="2.2" height="17" fill="#1c1c1c"/>
<rect x="186.5" y="314.8" width="2.2" height="17" fill="#1c1c1c"/>
<rect x="191.0" y="314.8" width="2.2" height="17" fill="#1c1c1c"/>
<rect x="195.5" y="314.8" width="2.2" height="17" fill="#1c1c1c"/>
<rect x="200.0" y="314.8" width="2.2" height="17" fill="#1c1c1c"/>
<rect x="204.5" y="314.8" width="2.2" height="17" fill="#1c1c1c"/>
<rect x="209.0" y="314.8" width="2.2" height="17" fill="#1c1c1c"/>
<rect x="213.5" y="314.8" width="2.2" height="17" fill="#1c1c1c"/>
<rect x="218.0" y="314.8" width="2.2" height="17" fill="#1c1c1c"/>
<rect x="222.5" y="314.8" width="2.2" height="17" fill="#1c1c1c"/>
<rect x="227.0" y="314.8" width="2.2" height="17" fill="#1c1c1c"/>
<rect x="231.5" y="314.8" width="2.2" height="17" fill="#1c1c1c"/>
<rect x="236.0" y="314.8" width="2.2" height="17" fill="#1c1c1c"/>
<rect x="240.5" y="314.8" width="2.2" height="17" fill="#1c1c1c"/>
<rect x="245.0" y="314.8" width="2.2" height="17" fill="#1c1c1c"/>
<rect x="249.5" y="314.8" width="2.2" height="17" fill="#1c1c1c"/>
<rect x="254.0" y="314.8" width="2.2" height="17" fill="#1c1c1c"/>
<rect x="101.3" y="314.8" width="5.6" height="15" fill="#6e6e6e"/>
<rect x="101.6" y="329.8" width="5" height="76.2" fill="#424242"/>
<rect x="139.5" y="314.8" width="5.6" height="15" fill="#6e6e6e"/>
<rect x="139.8" y="329.8" width="5" height="76.2" fill="#424242"/>
<rect x="178.1" y="314.8" width="5.6" height="15" fill="#6e6e6e"/>
<rect x="178.4" y="329.8" width="5" height="76.2" fill="#424242"/>
<rect x="216.9" y="314.8" width="5.6" height="15" fill="#6e6e6e"/>
<rect x="217.2" y="329.8" width="5" height="76.2" fill="#424242"/>
<rect x="64" y="395.1" width="194.2" height="2.2" fill="#707070"/>
<g filter="url(#grain)">
<path d="M85.0,391.8 L85.5,403.8" stroke="#8a8a8a" stroke-width="1.8"/>
<path d="M75.3,389.9 L62.5,393.0 M94.7,389.9 L107.5,393.0" stroke="#7a7a7a" stroke-width="1.4"/>
<g transform="translate(85.00,316.30) scale(16.10,77.50)"><path d="M0,0 C0.18,0 0.26,0.08 0.3,0.15 C0.5,0.19 0.8,0.21 0.93,0.27 C1.02,0.33 0.97,0.45 0.93,0.58 C0.9,0.74 0.91,0.85 0.79,0.92 C0.6,0.99 0.3,1.0 0,1.0 C-0.3,1.0 -0.6,0.99 -0.79,0.92 C-0.91,0.85 -0.9,0.74 -0.93,0.58 C-0.97,0.45 -1.02,0.33 -0.93,0.27 C-0.8,0.21 -0.5,0.19 -0.3,0.15 C-0.26,0.08 -0.18,0 0,0 Z" fill="#d6d6d6"/></g>
<g filter="url(#soft)">
<g transform="translate(85.00,316.30) scale(16.10,77.50)"><path d="M0,0.32 C0.38,0.32 0.66,0.38 0.7,0.52 C0.76,0.66 0.74,0.8 0.6,0.9 C0.44,0.95 0.2,0.94 0,0.94 C-0.2,0.94 -0.44,0.95 -0.6,0.9 C-0.74,0.8 -0.76,0.66 -0.7,0.52 C-0.66,0.38 -0.38,0.32 0,0.32 Z" fill="#858585"/></g>
<ellipse cx="85.00" cy="324.05" rx="2.90" ry="6.20" fill="#888"/>
<ellipse cx="85.00" cy="334.90" rx="4.51" ry="3.49" fill="#a0a0a0"/>
<ellipse cx="95.78" cy="372.48" rx="1.62" ry="3.17" fill="#dadada"/>
<ellipse cx="95.19" cy="359.93" rx="1.89" ry="3.10" fill="#dadada"/>
<ellipse cx="95.90" cy="360.78" rx="2.32" ry="3.61" fill="#dadada"/>
<ellipse cx="94.99" cy="383.04" rx="2.45" ry="3.02" fill="#dadada"/>
<ellipse cx="83.25" cy="361.54" rx="2.11" ry="3.84" fill="#9a9a9a"/>
<ellipse cx="81.12" cy="362.40" rx="3.03" ry="2.76" fill="#9a9a9a"/>
<ellipse cx="79.58" cy="371.97" rx="2.47" ry="3.28" fill="#9a9a9a"/>
</g>
<path d="M123.2,393.8 L123.7,405.8" stroke="#8a8a8a" stroke-width="1.8"/>
<path d="M114.0,392.0 L101.8,395.0 M132.4,392.0 L144.6,395.0" stroke="#7a7a7a" stroke-width="1.4"/>
<g transform="translate(123.20,319.30) scale(15.30,76.50)"><path d="M0,0 C0.18,0 0.26,0.08 0.3,0.15 C0.5,0.19 0.8,0.21 0.93,0.27 C1.02,0.33 0.97,0.45 0.93,0.58 C0.9,0.74 0.91,0.85 0.79,0.92 C0.6,0.99 0.3,1.0 0,1.0 C-0.3,1.0 -0.6,0.99 -0.79,0.92 C-0.91,0.85 -0.9,0.74 -0.93,0.58 C-0.97,0.45 -1.02,0.33 -0.93,0.27 C-0.8,0.21 -0.5,0.19 -0.3,0.15 C-0.26,0.08 -0.18,0 0,0 Z" fill="#d6d6d6"/></g>
<g filter="url(#soft)">
<g transform="translate(123.20,319.30) scale(15.30,76.50)"><path d="M0,0.32 C0.38,0.32 0.66,0.38 0.7,0.52 C0.76,0.66 0.74,0.8 0.6,0.9 C0.44,0.95 0.2,0.94 0,0.94 C-0.2,0.94 -0.44,0.95 -0.6,0.9 C-0.74,0.8 -0.76,0.66 -0.7,0.52 C-0.66,0.38 -0.38,0.32 0,0.32 Z" fill="#858585"/></g>
<ellipse cx="123.20" cy="326.95" rx="2.75" ry="6.12" fill="#888"/>
<ellipse cx="123.20" cy="337.66" rx="4.28" ry="3.44" fill="#a0a0a0"/>
<ellipse cx="133.40" cy="361.48" rx="2.33" ry="2.71" fill="#dadada"/>
<ellipse cx="112.94" cy="357.38" rx="2.10" ry="2.57" fill="#dadada"/>
<ellipse cx="113.94" cy="374.03" rx="1.96" ry="2.64" fill="#dadada"/>
<ellipse cx="113.82" cy="384.01" rx="2.42" ry="3.03" fill="#dadada"/>
<ellipse cx="123.79" cy="366.44" rx="2.27" ry="3.31" fill="#9a9a9a"/>
<ellipse cx="117.96" cy="359.98" rx="2.71" ry="2.87" fill="#9a9a9a"/>
<ellipse cx="121.37" cy="382.86" rx="2.88" ry="3.62" fill="#9a9a9a"/>
</g>
<path d="M161.4,393.1 L161.9,405.1" stroke="#8a8a8a" stroke-width="1.8"/>
<path d="M152.0,391.3 L139.6,394.3 M170.8,391.3 L183.2,394.3" stroke="#7a7a7a" stroke-width="1.4"/>
<g transform="translate(161.40,320.00) scale(15.60,75.10)"><path d="M0,0 C0.18,0 0.26,0.08 0.3,0.15 C0.5,0.19 0.8,0.21 0.93,0.27 C1.02,0.33 0.97,0.45 0.93,0.58 C0.9,0.74 0.91,0.85 0.79,0.92 C0.6,0.99 0.3,1.0 0,1.0 C-0.3,1.0 -0.6,0.99 -0.79,0.92 C-0.91,0.85 -0.9,0.74 -0.93,0.58 C-0.97,0.45 -1.02,0.33 -0.93,0.27 C-0.8,0.21 -0.5,0.19 -0.3,0.15 C-0.26,0.08 -0.18,0 0,0 Z" fill="#d6d6d6"/></g>
<g filter="url(#soft)">
<g transform="translate(161.40,320.00) scale(15.60,75.10)"><path d="M0,0.32 C0.38,0.32 0.66,0.38 0.7,0.52 C0.76,0.66 0.74,0.8 0.6,0.9 C0.44,0.95 0.2,0.94 0,0.94 C-0.2,0.94 -0.44,0.95 -0.6,0.9 C-0.74,0.8 -0.76,0.66 -0.7,0.52 C-0.66,0.38 -0.38,0.32 0,0.32 Z" fill="#858585"/></g>
<ellipse cx="161.40" cy="327.51" rx="2.81" ry="6.01" fill="#888"/>
<ellipse cx="161.40" cy="338.02" rx="4.37" ry="3.38" fill="#a0a0a0"/>
<ellipse cx="171.79" cy="386.25" rx="1.84" ry="2.70" fill="#dadada"/>
<ellipse cx="171.31" cy="385.75" rx="1.89" ry="2.45" fill="#dadada"/>
<ellipse cx="171.96" cy="380.57" rx="1.91" ry="2.47" fill="#dadada"/>
<ellipse cx="172.55" cy="371.21" rx="2.47" ry="3.17" fill="#dadada"/>
<ellipse cx="159.54" cy="380.63" rx="1.87" ry="2.42" fill="#9a9a9a"/>
<ellipse cx="162.22" cy="372.27" rx="2.05" ry="3.20" fill="#9a9a9a"/>
<ellipse cx="166.28" cy="365.09" rx="2.41" ry="2.59" fill="#9a9a9a"/>
</g>
<path d="M200.5,397.8 L201.0,409.8" stroke="#8a8a8a" stroke-width="1.8"/>
<path d="M191.2,395.8 L178.8,399.0 M209.8,395.8 L222.2,399.0" stroke="#7a7a7a" stroke-width="1.4"/>
<g transform="translate(200.50,318.90) scale(15.50,80.90)"><path d="M0,0 C0.18,0 0.26,0.08 0.3,0.15 C0.5,0.19 0.8,0.21 0.93,0.27 C1.02,0.33 0.97,0.45 0.93,0.58 C0.9,0.74 0.91,0.85 0.79,0.92 C0.6,0.99 0.3,1.0 0,1.0 C-0.3,1.0 -0.6,0.99 -0.79,0.92 C-0.91,0.85 -0.9,0.74 -0.93,0.58 C-0.97,0.45 -1.02,0.33 -0.93,0.27 C-0.8,0.21 -0.5,0.19 -0.3,0.15 C-0.26,0.08 -0.18,0 0,0 Z" fill="#d6d6d6"/></g>
<g filter="url(#soft)">
<g transform="translate(200.50,318.90) scale(15.50,80.90)"><path d="M0,0.32 C0.38,0.32 0.66,0.38 0.7,0.52 C0.76,0.66 0.74,0.8 0.6,0.9 C0.44,0.95 0.2,0.94 0,0.94 C-0.2,0.94 -0.44,0.95 -0.6,0.9 C-0.74,0.8 -0.76,0.66 -0.7,0.52 C-0.66,0.38 -0.38,0.32 0,0.32 Z" fill="#858585"/></g>
<ellipse cx="200.50" cy="326.99" rx="2.79" ry="6.47" fill="#888"/>
<ellipse cx="200.50" cy="338.32" rx="4.34" ry="3.64" fill="#a0a0a0"/>
<ellipse cx="211.12" cy="370.66" rx="1.91" ry="3.81" fill="#dadada"/>
<ellipse cx="190.72" cy="375.36" rx="2.46" ry="3.23" fill="#dadada"/>
<ellipse cx="211.56" cy="352.06" rx="1.84" ry="3.93" fill="#dadada"/>
<ellipse cx="190.97" cy="370.55" rx="2.13" ry="3.14" fill="#dadada"/>
<ellipse cx="197.93" cy="380.60" rx="2.89" ry="2.45" fill="#9a9a9a"/>
<ellipse cx="200.90" cy="364.16" rx="3.02" ry="3.69" fill="#9a9a9a"/>
<ellipse cx="197.35" cy="363.97" rx="2.05" ry="4.03" fill="#9a9a9a"/>
</g>
<path d="M239.0,394.8 L239.5,406.8" stroke="#8a8a8a" stroke-width="1.8"/>
<path d="M229.9,392.8 L217.7,396.0 M248.1,392.8 L260.3,396.0" stroke="#7a7a7a" stroke-width="1.4"/>
<g transform="translate(239.00,315.90) scale(15.20,80.90)"><path d="M0,0 C0.18,0 0.26,0.08 0.3,0.15 C0.5,0.19 0.8,0.21 0.93,0.27 C1.02,0.33 0.97,0.45 0.93,0.58 C0.9,0.74 0.91,0.85 0.79,0.92 C0.6,0.99 0.3,1.0 0,1.0 C-0.3,1.0 -0.6,0.99 -0.79,0.92 C-0.91,0.85 -0.9,0.74 -0.93,0.58 C-0.97,0.45 -1.02,0.33 -0.93,0.27 C-0.8,0.21 -0.5,0.19 -0.3,0.15 C-0.26,0.08 -0.18,0 0,0 Z" fill="#d6d6d6"/></g>
<g filter="url(#soft)">
<g transform="translate(239.00,315.90) scale(15.20,80.90)"><path d="M0,0.32 C0.38,0.32 0.66,0.38 0.7,0.52 C0.76,0.66 0.74,0.8 0.6,0.9 C0.44,0.95 0.2,0.94 0,0.94 C-0.2,0.94 -0.44,0.95 -0.6,0.9 C-0.74,0.8 -0.76,0.66 -0.7,0.52 C-0.66,0.38 -0.38,0.32 0,0.32 Z" fill="#858585"/></g>
<ellipse cx="239.00" cy="323.99" rx="2.74" ry="6.47" fill="#888"/>
<ellipse cx="239.00" cy="335.32" rx="4.26" ry="3.64" fill="#a0a0a0"/>
<ellipse cx="249.93" cy="368.17" rx="1.99" ry="3.82" fill="#dadada"/>
<ellipse cx="229.65" cy="348.91" rx="1.78" ry="3.57" fill="#dadada"/>
<ellipse cx="248.17" cy="377.84" rx="1.84" ry="3.53" fill="#dadada"/>
<ellipse cx="229.42" cy="349.73" rx="1.94" ry="3.91" fill="#dadada"/>
<ellipse cx="243.72" cy="369.96" rx="1.84" ry="3.69" fill="#9a9a9a"/>
<ellipse cx="238.12" cy="370.93" rx="2.69" ry="3.45" fill="#9a9a9a"/>
<ellipse cx="238.78" cy="381.81" rx="2.29" ry="3.06" fill="#9a9a9a"/>
</g>
</g>
<g transform="translate(93.5,362.3) rotate(-20)">
<ellipse cx="0" cy="0" rx="2.60" ry="1.70" fill="#4a1c9c"/>
<ellipse cx="0" cy="0" rx="2.11" ry="1.38" fill="#2c3cc8"/>
</g>
<ellipse cx="85.00" cy="356.50" rx="17.30" ry="41.00" fill="none" stroke="#c43c20" stroke-width="1"/>
<ellipse cx="123.20" cy="359.00" rx="16.50" ry="40.50" fill="none" stroke="#c43c20" stroke-width="1"/>
<ellipse cx="161.40" cy="359.00" rx="16.80" ry="39.80" fill="none" stroke="#c43c20" stroke-width="1"/>
<ellipse cx="200.50" cy="360.80" rx="16.70" ry="42.70" fill="none" stroke="#c43c20" stroke-width="1"/>
<ellipse cx="239.00" cy="357.80" rx="16.40" ry="42.70" fill="none" stroke="#c43c20" stroke-width="1"/>
</g>
<rect x="64" y="299.3" width="91.4" height="8.9" fill="#fff"/>
<text transform="translate(73.90,306.91) scale(1.04,1)" font-size="7.6" text-anchor="start" fill="#1a1a1a" font-weight="normal" stroke="#1a1a1a" stroke-width="0.1">IDOL.tg MDSC-IL13</text>
<line x1="64" y1="309.3" x2="258.2" y2="309.3" stroke="#c8c8c8" stroke-width="0.8"/>
<rect x="64" y="397.4" width="118.7" height="8.8" fill="#fff"/>
<text transform="translate(75.30,404.71) scale(1.055,1)" font-size="7.6" text-anchor="start" fill="#1a1a1a" font-weight="normal" stroke="#1a1a1a" stroke-width="0.1">IDOL.tg MDSC-IL13 + Treg</text>
<line x1="64" y1="406.6" x2="258.2" y2="406.6" stroke="#c8c8c8" stroke-width="0.8"/>
<text transform="translate(6.50,453.85) scale(1.0,1)" font-size="11.2" text-anchor="start" fill="#000" font-weight="bold" stroke="#000" stroke-width="0">C</text>
<line x1="58" y1="464.5" x2="58" y2="595.0" stroke="#222" stroke-width="1.2"/>
<line x1="57.4" y1="594.3" x2="239.8" y2="594.3" stroke="#222" stroke-width="1.3"/>
<line x1="55" y1="594.30" x2="58" y2="594.30" stroke="#222" stroke-width="0.9"/>
<text transform="translate(52.20,596.85) scale(1.05,1)" font-size="7.4" text-anchor="end" fill="#1a1a1a" font-weight="normal" stroke="#1a1a1a" stroke-width="0.1">0</text>
<line x1="55" y1="562.38" x2="58" y2="562.38" stroke="#222" stroke-width="0.9"/>
<text transform="translate(52.40,564.92) scale(1.08,1)" font-size="7.4" text-anchor="end" fill="#1a1a1a" font-weight="normal" stroke="#1a1a1a" stroke-width="0.1">1x10<tspan font-size="4.6" dy="-3">6</tspan></text>
<line x1="55" y1="530.45" x2="58" y2="530.45" stroke="#222" stroke-width="0.9"/>
<text transform="translate(52.40,533.00) scale(1.08,1)" font-size="7.4" text-anchor="end" fill="#1a1a1a" font-weight="normal" stroke="#1a1a1a" stroke-width="0.1">2x10<tspan font-size="4.6" dy="-3">6</tspan></text>
<line x1="55" y1="498.52" x2="58" y2="498.52" stroke="#222" stroke-width="0.9"/>
<text transform="translate(52.40,501.07) scale(1.08,1)" font-size="7.4" text-anchor="end" fill="#1a1a1a" font-weight="normal" stroke="#1a1a1a" stroke-width="0.1">3x10<tspan font-size="4.6" dy="-3">6</tspan></text>
<line x1="55" y1="466.60" x2="58" y2="466.60" stroke="#222" stroke-width="0.9"/>
<text transform="translate(52.40,469.15) scale(1.08,1)" font-size="7.4" text-anchor="end" fill="#1a1a1a" font-weight="normal" stroke="#1a1a1a" stroke-width="0.1">4x10<tspan font-size="4.6" dy="-3">6</tspan></text>
<text transform="translate(26.80,529.60) rotate(-90) scale(0.93,1)" font-size="8" text-anchor="middle" fill="#1a1a1a" font-weight="normal" stroke="#1a1a1a" stroke-width="0.1">p/sec/cm<tspan font-size="4.8" dy="-2.9">2</tspan><tspan dy="2.9">/sr</tspan></text>
<line x1="94" y1="594.3" x2="94" y2="597.3" stroke="#222" stroke-width="0.9"/>
<line x1="148.3" y1="594.3" x2="148.3" y2="597.3" stroke="#222" stroke-width="0.9"/>
<line x1="202.5" y1="594.3" x2="202.5" y2="597.3" stroke="#222" stroke-width="0.9"/>
<rect x="75.8" y="577.1" width="36.5" height="17.2" fill="#fff" stroke="#c84a66" stroke-width="0.9"/>
<rect x="130.5" y="523" width="36.3" height="71.3" fill="#fff" stroke="#4a64a0" stroke-width="0.9"/>
<rect x="184.5" y="555.8" width="36" height="38.5" fill="#fff" stroke="#7cc060" stroke-width="0.9"/>
<circle cx="86.8" cy="568.8" r="2.3" fill="#b8123c"/>
<circle cx="101.3" cy="567.5" r="2.3" fill="#b8123c"/>
<circle cx="79.4" cy="574.6" r="2.3" fill="#b8123c"/>
<circle cx="94" cy="574.4" r="2.3" fill="#b8123c"/>
<circle cx="83" cy="577.8" r="2.3" fill="#b8123c"/>
<circle cx="85.4" cy="579.2" r="2.3" fill="#b8123c"/>
<circle cx="89.2" cy="579.7" r="2.3" fill="#b8123c"/>
<circle cx="94" cy="583.6" r="2.3" fill="#b8123c"/>
<circle cx="98.8" cy="579.7" r="2.3" fill="#b8123c"/>
<circle cx="102.7" cy="579.7" r="2.3" fill="#b8123c"/>
<circle cx="106" cy="578.8" r="2.3" fill="#b8123c"/>
<circle cx="108.5" cy="577.8" r="2.3" fill="#b8123c"/>
<circle cx="91.5" cy="580.5" r="2.3" fill="#b8123c"/>
<circle cx="96.5" cy="580.5" r="2.3" fill="#b8123c"/>
<rect x="131.65" y="481.15" width="4.2" height="4.2" fill="#1f3f7f"/>
<rect x="138.90" y="484.65" width="4.2" height="4.2" fill="#1f3f7f"/>
<rect x="146.15" y="488.65" width="4.2" height="4.2" fill="#1f3f7f"/>
<rect x="153.40" y="488.15" width="4.2" height="4.2" fill="#1f3f7f"/>
<rect x="160.65" y="484.40" width="4.2" height="4.2" fill="#1f3f7f"/>
<rect x="146.15" y="513.40" width="4.2" height="4.2" fill="#1f3f7f"/>
<rect x="146.15" y="525.90" width="4.2" height="4.2" fill="#1f3f7f"/>
<rect x="138.90" y="543.65" width="4.2" height="4.2" fill="#1f3f7f"/>
<rect x="146.15" y="545.90" width="4.2" height="4.2" fill="#1f3f7f"/>
<rect x="153.40" y="543.65" width="4.2" height="4.2" fill="#1f3f7f"/>
<rect x="142.65" y="559.65" width="4.2" height="4.2" fill="#1f3f7f"/>
<rect x="149.65" y="559.65" width="4.2" height="4.2" fill="#1f3f7f"/>
<path d="M198.75,513.02 L201.05,517.16 L196.45,517.16Z" fill="#6db33f"/>
<path d="M206.00,520.52 L208.30,524.66 L203.70,524.66Z" fill="#6db33f"/>
<path d="M202.50,538.27 L204.80,542.41 L200.20,542.41Z" fill="#6db33f"/>
<path d="M190.50,560.02 L192.80,564.16 L188.20,564.16Z" fill="#6db33f"/>
<path d="M195.00,561.27 L197.30,565.41 L192.70,565.41Z" fill="#6db33f"/>
<path d="M199.25,555.52 L201.55,559.66 L196.95,559.66Z" fill="#6db33f"/>
<path d="M206.25,557.02 L208.55,561.16 L203.95,561.16Z" fill="#6db33f"/>
<path d="M209.50,562.02 L211.80,566.16 L207.20,566.16Z" fill="#6db33f"/>
<path d="M213.75,560.52 L216.05,564.66 L211.45,564.66Z" fill="#6db33f"/>
<path d="M202.50,563.77 L204.80,567.91 L200.20,567.91Z" fill="#6db33f"/>
<path d="M198.75,573.77 L201.05,577.91 L196.45,577.91Z" fill="#6db33f"/>
<path d="M205.50,566.02 L207.80,570.16 L203.20,570.16Z" fill="#6db33f"/>
<path d="M193.50,564.52 L195.80,568.66 L191.20,568.66Z" fill="#6db33f"/>
<line x1="94" y1="572.3" x2="94" y2="581.3" stroke="#222" stroke-width="1"/>
<line x1="85.1" y1="572.3" x2="102.9" y2="572.3" stroke="#222" stroke-width="1.1"/>
<line x1="85.1" y1="581.3" x2="102.9" y2="581.3" stroke="#222" stroke-width="1.1"/>
<line x1="148.3" y1="488.8" x2="148.3" y2="552" stroke="#222" stroke-width="1"/>
<line x1="139.3" y1="488.8" x2="157.3" y2="488.8" stroke="#222" stroke-width="1.1"/>
<line x1="139.3" y1="552" x2="157.3" y2="552" stroke="#222" stroke-width="1.1"/>
<line x1="202.5" y1="537.5" x2="202.5" y2="573.3" stroke="#222" stroke-width="1"/>
<line x1="193.25" y1="537.5" x2="211.75" y2="537.5" stroke="#222" stroke-width="1.1"/>
<line x1="193.25" y1="573.3" x2="211.75" y2="573.3" stroke="#222" stroke-width="1.1"/>
<path d="M148.3,467 V478 M148.3,472.5 H202.8 M202.8,467 V478" fill="none" stroke="#222" stroke-width="1"/>
<text x="175.6" y="467.2" font-size="9.2" text-anchor="middle" fill="#1a1a1a">**</text>
<text transform="translate(94.20,607.18) scale(1.07,1)" font-size="7.5" text-anchor="middle" fill="#1a1a1a" font-weight="normal" stroke="#1a1a1a" stroke-width="0.1">No MDSC</text>
<text transform="translate(148.60,607.18) scale(1.07,1)" font-size="7.5" text-anchor="middle" fill="#1a1a1a" font-weight="normal" stroke="#1a1a1a" stroke-width="0.1">IDOL.tg</text>
<text transform="translate(148.60,617.08) scale(1.07,1)" font-size="7.5" text-anchor="middle" fill="#1a1a1a" font-weight="normal" stroke="#1a1a1a" stroke-width="0.1">MDSC</text>
<text transform="translate(202.90,607.18) scale(1.07,1)" font-size="7.5" text-anchor="middle" fill="#1a1a1a" font-weight="normal" stroke="#1a1a1a" stroke-width="0.1">IDOL.tg</text>
<text transform="translate(202.80,617.08) scale(1.08,1)" font-size="7.5" text-anchor="middle" fill="#1a1a1a" font-weight="normal" stroke="#1a1a1a" stroke-width="0.1">MDSC + Treg</text>
<text transform="translate(274.60,16.52) scale(1.0,1)" font-size="10.8" text-anchor="start" fill="#000" font-weight="bold" stroke="#000" stroke-width="0">D</text>
<rect x="310.5" y="18" width="116" height="81" fill="#fff" stroke="#333" stroke-width="1"/>
<circle cx="330.5" cy="38.3" r="18" fill="#fff" stroke="#222" stroke-width="0.9"/>
<text transform="translate(330.50,41.08) scale(1.08,1)" font-size="7.2" text-anchor="middle" fill="#1a1a1a" font-weight="normal" stroke="#1a1a1a" stroke-width="0.1">spleen</text>
<circle cx="368.7" cy="38.3" r="18" fill="#fff" stroke="#222" stroke-width="0.9"/>
<text transform="translate(368.70,41.08) scale(1.08,1)" font-size="7.2" text-anchor="middle" fill="#1a1a1a" font-weight="normal" stroke="#1a1a1a" stroke-width="0.1">lung</text>
<circle cx="407" cy="38.3" r="18" fill="#fff" stroke="#222" stroke-width="0.9"/>
<text transform="translate(407.00,41.08) scale(1.08,1)" font-size="7.2" text-anchor="middle" fill="#1a1a1a" font-weight="normal" stroke="#1a1a1a" stroke-width="0.1">liver</text>
<circle cx="330.7" cy="76.3" r="18" fill="#fff" stroke="#222" stroke-width="0.9"/>
<text transform="translate(330.70,79.08) scale(1.08,1)" font-size="7.2" text-anchor="middle" fill="#1a1a1a" font-weight="normal" stroke="#1a1a1a" stroke-width="0.1">mLN</text>
<circle cx="368.9" cy="76.3" r="18" fill="#fff" stroke="#222" stroke-width="0.9"/>
<text transform="translate(368.90,79.08) scale(1.08,1)" font-size="7.2" text-anchor="middle" fill="#1a1a1a" font-weight="normal" stroke="#1a1a1a" stroke-width="0.1">pLN</text>
<circle cx="407.3" cy="76.3" r="18" fill="#fff" stroke="#222" stroke-width="0.9"/>
<circle cx="453.8" cy="31.2" r="24.2" fill="#fff" stroke="#222" stroke-width="0.9"/>
<text transform="translate(453.80,33.98) scale(1.08,1)" font-size="7.2" text-anchor="middle" fill="#1a1a1a" font-weight="normal" stroke="#1a1a1a" stroke-width="0.1">colon</text>
<circle cx="454" cy="83.3" r="24.6" fill="#fff" stroke="#222" stroke-width="0.9"/>
<text transform="translate(454.00,86.08) scale(1.08,1)" font-size="7.2" text-anchor="middle" fill="#1a1a1a" font-weight="normal" stroke="#1a1a1a" stroke-width="0.1">sm int</text>
<text transform="translate(273.20,124.41) scale(0.88,1)" font-size="7.0" text-anchor="start" fill="#222" font-weight="normal" stroke="#222" stroke-width="0.1">Luminescence</text>
<rect x="272.9" y="131.2" width="8.7" height="178.3" fill="url(#cbg)" stroke="#111" stroke-width="1"/>
<line x1="281.59999999999997" y1="131.50" x2="284.99999999999994" y2="131.50" stroke="#222" stroke-width="0.8"/>
<text transform="translate(288.10,133.91) scale(0.85,1)" font-size="7.0" text-anchor="start" fill="#222" font-weight="normal" stroke="#222" stroke-width="0.1">1.0</text>
<line x1="281.59999999999997" y1="139.40" x2="283.49999999999994" y2="139.40" stroke="#222" stroke-width="0.8"/>
<line x1="281.59999999999997" y1="147.30" x2="283.49999999999994" y2="147.30" stroke="#222" stroke-width="0.8"/>
<line x1="281.59999999999997" y1="155.20" x2="283.49999999999994" y2="155.20" stroke="#222" stroke-width="0.8"/>
<line x1="281.59999999999997" y1="163.10" x2="283.49999999999994" y2="163.10" stroke="#222" stroke-width="0.8"/>
<line x1="281.59999999999997" y1="171.00" x2="284.99999999999994" y2="171.00" stroke="#222" stroke-width="0.8"/>
<text transform="translate(288.10,173.41) scale(0.85,1)" font-size="7.0" text-anchor="start" fill="#222" font-weight="normal" stroke="#222" stroke-width="0.1">0.8</text>
<line x1="281.59999999999997" y1="178.90" x2="283.49999999999994" y2="178.90" stroke="#222" stroke-width="0.8"/>
<line x1="281.59999999999997" y1="186.80" x2="283.49999999999994" y2="186.80" stroke="#222" stroke-width="0.8"/>
<line x1="281.59999999999997" y1="194.70" x2="283.49999999999994" y2="194.70" stroke="#222" stroke-width="0.8"/>
<line x1="281.59999999999997" y1="202.60" x2="283.49999999999994" y2="202.60" stroke="#222" stroke-width="0.8"/>
<line x1="281.59999999999997" y1="210.50" x2="284.99999999999994" y2="210.50" stroke="#222" stroke-width="0.8"/>
<text transform="translate(288.10,212.91) scale(0.85,1)" font-size="7.0" text-anchor="start" fill="#222" font-weight="normal" stroke="#222" stroke-width="0.1">0.6</text>
<line x1="281.59999999999997" y1="218.40" x2="283.49999999999994" y2="218.40" stroke="#222" stroke-width="0.8"/>
<line x1="281.59999999999997" y1="226.30" x2="283.49999999999994" y2="226.30" stroke="#222" stroke-width="0.8"/>
<line x1="281.59999999999997" y1="234.20" x2="283.49999999999994" y2="234.20" stroke="#222" stroke-width="0.8"/>
<line x1="281.59999999999997" y1="242.10" x2="283.49999999999994" y2="242.10" stroke="#222" stroke-width="0.8"/>
<line x1="281.59999999999997" y1="250.00" x2="284.99999999999994" y2="250.00" stroke="#222" stroke-width="0.8"/>
<text transform="translate(288.10,252.41) scale(0.85,1)" font-size="7.0" text-anchor="start" fill="#222" font-weight="normal" stroke="#222" stroke-width="0.1">0.4</text>
<line x1="281.59999999999997" y1="257.90" x2="283.49999999999994" y2="257.90" stroke="#222" stroke-width="0.8"/>
<line x1="281.59999999999997" y1="265.80" x2="283.49999999999994" y2="265.80" stroke="#222" stroke-width="0.8"/>
<line x1="281.59999999999997" y1="273.70" x2="283.49999999999994" y2="273.70" stroke="#222" stroke-width="0.8"/>
<line x1="281.59999999999997" y1="281.60" x2="283.49999999999994" y2="281.60" stroke="#222" stroke-width="0.8"/>
<line x1="281.59999999999997" y1="289.50" x2="284.99999999999994" y2="289.50" stroke="#222" stroke-width="0.8"/>
<text transform="translate(288.10,291.91) scale(0.85,1)" font-size="7.0" text-anchor="start" fill="#222" font-weight="normal" stroke="#222" stroke-width="0.1">0.2</text>
<line x1="281.59999999999997" y1="297.40" x2="283.49999999999994" y2="297.40" stroke="#222" stroke-width="0.8"/>
<line x1="281.59999999999997" y1="305.30" x2="283.49999999999994" y2="305.30" stroke="#222" stroke-width="0.8"/>
<text transform="translate(310.50,221.60) rotate(-90) scale(0.85,1)" font-size="8.3" text-anchor="middle" fill="#222" font-weight="normal" stroke="#222" stroke-width="0.1">x10<tspan font-size="5" dy="-3">5</tspan></text>
<text transform="translate(272.90,317.91) scale(0.87,1)" font-size="7.0" text-anchor="start" fill="#222" font-weight="normal" stroke="#222" stroke-width="0.1">Radiance</text>
<text transform="translate(272.90,326.01) scale(0.93,1)" font-size="7.0" text-anchor="start" fill="#222" font-weight="normal" stroke="#222" stroke-width="0.1">(p/sec/cm<tspan font-size="4.4" dy="-2.6">2</tspan><tspan dy="2.6">/sr)</tspan></text>
<rect x="272.9" y="329.2" width="43.6" height="25.7" fill="#fff" stroke="#222" stroke-width="0.9"/>
<text transform="translate(274.50,336.71) scale(0.9,1)" font-size="7.0" text-anchor="start" fill="#1a1a1a" font-weight="normal" stroke="#1a1a1a" stroke-width="0.1">Color Scale</text>
<text transform="translate(274.50,344.41) scale(0.86,1)" font-size="7.0" text-anchor="start" fill="#1a1a1a" font-weight="normal" stroke="#1a1a1a" stroke-width="0.1">Min = 1.00e<tspan font-size="4.4" dy="-2.6">4</tspan></text>
<text transform="translate(274.50,352.21) scale(0.84,1)" font-size="7.0" text-anchor="start" fill="#1a1a1a" font-weight="normal" stroke="#1a1a1a" stroke-width="0.1">Max = 1.00e<tspan font-size="4.4" dy="-2.6">5</tspan></text>
<g clip-path="url(#cD1)">
<rect x="323.2" y="122.6" width="189.6" height="120.6" fill="#262626"/>
<rect x="324.7" y="128.3" width="127.6" height="84.8" rx="4" fill="#8e8e8e" stroke="#b4b4b4" stroke-width="1"/>
<path d="M438.3,131.3 L447.3,137.3 V209.1" fill="none" stroke="#a8a8a8" stroke-width="0.8"/>
<rect x="327.2" y="130.8" width="120.6" height="79.8" rx="4" fill="#747474"/>
<rect x="347.4" y="150.9" width="79.8" height="39.5" fill="#7c7c7c"/>
<circle cx="347.4" cy="150.9" r="19.4" fill="#2c2c2c"/>
<circle cx="347.4" cy="150.9" r="17.6" fill="url(#wellg)"/>
<circle cx="347.4" cy="150.9" r="16.9" fill="none" stroke="#c8281e" stroke-width="1.1"/>
<circle cx="387.1" cy="150.9" r="19.4" fill="#2c2c2c"/>
<circle cx="387.1" cy="150.9" r="17.6" fill="url(#wellg)"/>
<circle cx="387.1" cy="150.9" r="16.9" fill="none" stroke="#c8281e" stroke-width="1.1"/>
<circle cx="427.2" cy="150.9" r="19.4" fill="#2c2c2c"/>
<circle cx="427.2" cy="150.9" r="17.6" fill="url(#wellg)"/>
<circle cx="427.2" cy="150.9" r="16.9" fill="none" stroke="#c8281e" stroke-width="1.1"/>
<circle cx="347.4" cy="190.4" r="19.4" fill="#2c2c2c"/>
<circle cx="347.4" cy="190.4" r="17.6" fill="url(#wellg)"/>
<circle cx="347.4" cy="190.4" r="16.9" fill="none" stroke="#c8281e" stroke-width="1.1"/>
<circle cx="387.1" cy="190.4" r="19.4" fill="#2c2c2c"/>
<circle cx="387.1" cy="190.4" r="17.6" fill="url(#wellg)"/>
<circle cx="387.1" cy="190.4" r="16.9" fill="none" stroke="#c8281e" stroke-width="1.1"/>
<circle cx="427.2" cy="190.4" r="19.4" fill="#2c2c2c"/>
<circle cx="427.2" cy="190.4" r="17.6" fill="url(#wellg)"/>
<line x1="347.4" y1="122.6" x2="347.4" y2="134.0" stroke="#c8281e" stroke-width="0.8"/>
<line x1="387.1" y1="122.6" x2="387.1" y2="134.0" stroke="#c8281e" stroke-width="0.8"/>
<line x1="427.2" y1="122.6" x2="427.2" y2="134.0" stroke="#c8281e" stroke-width="0.8"/>
<line x1="323.2" y1="174.0" x2="333.4" y2="174.0" stroke="#c8281e" stroke-width="0.8"/>
<circle cx="481.4" cy="152.4" r="29.5" fill="url(#dishg)"/>
<path d="M503.4,150.4 C491.4,150.4 481.4,153.4 473.4,149.4 C467.4,146.4 469.4,136.4 463.4,138.4 C457.4,140.4 459.4,150.4 465.4,154.4 C471.4,158.4 475.4,148.4 469.4,144.4" fill="none" stroke="#a0a0a0" stroke-width="4.0" stroke-linecap="round" stroke-linejoin="round"/>
<path d="M503.4,150.4 C491.4,150.4 481.4,153.4 473.4,149.4 C467.4,146.4 469.4,136.4 463.4,138.4 C457.4,140.4 459.4,150.4 465.4,154.4 C471.4,158.4 475.4,148.4 469.4,144.4" fill="none" stroke="#3e3e3e" stroke-width="2.6" stroke-linecap="round" stroke-linejoin="round"/>
<circle cx="481.4" cy="152.4" r="28.5" fill="none" stroke="#c8281e" stroke-width="1.1"/>
<circle cx="482.9" cy="213.3" r="29.5" fill="url(#dishg)"/>
<path d="M462.9,219.3 C458.9,207.3 468.9,193.3 474.9,203.3 C478.9,211.3 470.9,217.3 472.9,227.3 C474.9,235.3 484.9,231.3 482.9,221.3 C480.9,209.3 480.9,195.3 488.9,195.3 C496.9,195.3 492.9,209.3 488.9,217.3 C484.9,225.3 492.9,233.3 498.9,225.3 C504.9,217.3 496.9,205.3 502.9,199.3" fill="none" stroke="#a0a0a0" stroke-width="3.8" stroke-linecap="round" stroke-linejoin="round"/>
<path d="M462.9,219.3 C458.9,207.3 468.9,193.3 474.9,203.3 C478.9,211.3 470.9,217.3 472.9,227.3 C474.9,235.3 484.9,231.3 482.9,221.3 C480.9,209.3 480.9,195.3 488.9,195.3 C496.9,195.3 492.9,209.3 488.9,217.3 C484.9,225.3 492.9,233.3 498.9,225.3 C504.9,217.3 496.9,205.3 502.9,199.3" fill="none" stroke="#3e3e3e" stroke-width="2.4" stroke-linecap="round" stroke-linejoin="round"/>
<path d="M464.9,199.3 C472.9,191.3 486.9,189.3 496.9,193.3 M460.9,223.3 C468.9,233.3 478.9,237.3 490.9,235.3" fill="none" stroke="#a0a0a0" stroke-width="3.6" stroke-linecap="round" stroke-linejoin="round"/>
<path d="M464.9,199.3 C472.9,191.3 486.9,189.3 496.9,193.3 M460.9,223.3 C468.9,233.3 478.9,237.3 490.9,235.3" fill="none" stroke="#3e3e3e" stroke-width="2.2" stroke-linecap="round" stroke-linejoin="round"/>
<circle cx="482.9" cy="213.3" r="28.5" fill="none" stroke="#c8281e" stroke-width="1.1"/>
<line x1="483.2" y1="184.8" x2="512.8" y2="184.8" stroke="#c8281e" stroke-width="0.8"/>
<line x1="481.4" y1="122.6" x2="481.4" y2="124.0" stroke="#c8281e" stroke-width="0.8"/>
<path d="M341.2,153.6 c2,-4 6,-6 9,-6 c3,0 5,2 6,4 c-2,1 -4,-1 -6,0 c-3,1 -5,4 -9,2z" fill="#3a2ab0"/>
<ellipse cx="347.2" cy="149.9" rx="2.2" ry="1.6" fill="#e0c030"/>
<ellipse cx="347.2" cy="149.9" rx="1" ry="0.8" fill="#e04020"/>
<path d="M380.2,147.6 c3,-4 9,-4 10,0 c2,4 4,6 2,9 c-2,3 -4,6 -6,8 c-2,1 -4,-2 -3,-5 c1,-3 -2,-6 -3,-12z" fill="#3a30b8"/>
<ellipse cx="385.2" cy="149.6" rx="2.4" ry="1.8" fill="#4a80e0"/>
<ellipse cx="384.2" cy="156.6" rx="2" ry="1.6" fill="#4a80e0"/>
<ellipse cx="507.7" cy="152.1" rx="4" ry="4.6" fill="#3a40d0"/>
<ellipse cx="507.7" cy="152.1" rx="2.6" ry="3.2" fill="#e8c030"/>
<ellipse cx="507.4" cy="152.1" rx="1.4" ry="1.8" fill="#e03018"/>
<ellipse cx="346.2" cy="190.6" rx="1.4" ry="1" fill="#4a40c0"/>
<ellipse cx="386.2" cy="188.6" rx="1.2" ry="0.9" fill="#4a40c0"/>
<ellipse cx="485.2" cy="223.6" rx="1.2" ry="1.5" fill="#e03018"/>
<ellipse cx="468.2" cy="210.6" rx="1.5" ry="1" fill="#4a40c0"/>
<rect x="420.2" y="153.0" width="0.9" height="0.9" fill="#f0f0f0" opacity="0.85"/>
<rect x="432.6" y="148.1" width="0.9" height="0.9" fill="#f0f0f0" opacity="0.85"/>
<rect x="419.6" y="150.5" width="0.9" height="0.9" fill="#f0f0f0" opacity="0.85"/>
<rect x="429.9" y="157.0" width="0.9" height="0.9" fill="#f0f0f0" opacity="0.85"/>
<rect x="420.1" y="143.4" width="0.9" height="0.9" fill="#f0f0f0" opacity="0.85"/>
<rect x="430.5" y="153.1" width="0.9" height="0.9" fill="#f0f0f0" opacity="0.85"/>
<rect x="436.1" y="156.6" width="0.9" height="0.9" fill="#f0f0f0" opacity="0.85"/>
<rect x="427.0" y="150.4" width="0.9" height="0.9" fill="#f0f0f0" opacity="0.85"/>
<rect x="439.7" y="149.5" width="0.9" height="0.9" fill="#f0f0f0" opacity="0.85"/>
<rect x="422.7" y="144.3" width="0.9" height="0.9" fill="#f0f0f0" opacity="0.85"/>
<rect x="427.3" y="151.1" width="0.9" height="0.9" fill="#f0f0f0" opacity="0.85"/>
<rect x="426.4" y="150.8" width="0.9" height="0.9" fill="#f0f0f0" opacity="0.85"/>
<rect x="428.4" y="153.8" width="0.9" height="0.9" fill="#f0f0f0" opacity="0.85"/>
<rect x="433.1" y="152.0" width="0.9" height="0.9" fill="#f0f0f0" opacity="0.85"/>
<rect x="417.0" y="154.9" width="0.9" height="0.9" fill="#f0f0f0" opacity="0.85"/>
<rect x="418.9" y="149.9" width="0.9" height="0.9" fill="#f0f0f0" opacity="0.85"/>
<rect x="418.6" y="150.9" width="0.9" height="0.9" fill="#f0f0f0" opacity="0.85"/>
<rect x="423.7" y="151.9" width="0.9" height="0.9" fill="#f0f0f0" opacity="0.85"/>
<rect x="440.1" y="150.7" width="0.9" height="0.9" fill="#f0f0f0" opacity="0.85"/>
<rect x="432.1" y="143.1" width="0.9" height="0.9" fill="#f0f0f0" opacity="0.85"/>
<rect x="426.0" y="153.6" width="0.9" height="0.9" fill="#f0f0f0" opacity="0.85"/>
<rect x="427.0" y="151.8" width="0.9" height="0.9" fill="#f0f0f0" opacity="0.85"/>
<rect x="427.7" y="145.7" width="0.9" height="0.9" fill="#f0f0f0" opacity="0.85"/>
<rect x="430.1" y="146.8" width="0.9" height="0.9" fill="#f0f0f0" opacity="0.85"/>
<rect x="437.8" y="148.0" width="0.9" height="0.9" fill="#f0f0f0" opacity="0.85"/>
<rect x="429.9" y="150.9" width="0.9" height="0.9" fill="#f0f0f0" opacity="0.85"/>
<rect x="432.4" y="147.6" width="0.9" height="0.9" fill="#f0f0f0" opacity="0.85"/>
<rect x="432.3" y="150.3" width="0.9" height="0.9" fill="#f0f0f0" opacity="0.85"/>
<rect x="434.5" y="154.5" width="0.9" height="0.9" fill="#f0f0f0" opacity="0.85"/>
<rect x="427.8" y="147.4" width="0.9" height="0.9" fill="#f0f0f0" opacity="0.85"/>
<circle cx="429.8" cy="152.5" r="3.4" fill="#252525" opacity="0.8"/>
<circle cx="427.3" cy="149.8" r="2.4" fill="#252525" opacity="0.8"/>
<circle cx="427.6" cy="151.2" r="3.2" fill="#252525" opacity="0.8"/>
<circle cx="429.4" cy="155.4" r="2.7" fill="#252525" opacity="0.8"/>
<circle cx="429.6" cy="157.0" r="2.2" fill="#252525" opacity="0.8"/>
<circle cx="426.6" cy="150.1" r="2.6" fill="#252525" opacity="0.8"/>
<rect x="366.5" y="160.9" width="0.9" height="0.9" fill="#e8e8e8" opacity="0.8"/>
<rect x="503.0" y="217.0" width="0.9" height="0.9" fill="#e8e8e8" opacity="0.8"/>
<rect x="382.9" y="225.5" width="0.9" height="0.9" fill="#e8e8e8" opacity="0.8"/>
<rect x="366.1" y="174.0" width="0.9" height="0.9" fill="#e8e8e8" opacity="0.8"/>
<rect x="482.0" y="200.0" width="0.9" height="0.9" fill="#e8e8e8" opacity="0.8"/>
<rect x="346.3" y="236.5" width="0.9" height="0.9" fill="#e8e8e8" opacity="0.8"/>
<rect x="366.6" y="159.7" width="0.9" height="0.9" fill="#e8e8e8" opacity="0.8"/>
<rect x="467.3" y="167.1" width="0.9" height="0.9" fill="#e8e8e8" opacity="0.8"/>
<rect x="381.5" y="140.3" width="0.9" height="0.9" fill="#e8e8e8" opacity="0.8"/>
<rect x="344.4" y="193.8" width="0.9" height="0.9" fill="#e8e8e8" opacity="0.8"/>
<rect x="371.9" y="195.7" width="0.9" height="0.9" fill="#e8e8e8" opacity="0.8"/>
<rect x="395.1" y="180.2" width="0.9" height="0.9" fill="#e8e8e8" opacity="0.8"/>
<rect x="500.8" y="183.4" width="0.9" height="0.9" fill="#e8e8e8" opacity="0.8"/>
<rect x="431.6" y="223.6" width="0.9" height="0.9" fill="#e8e8e8" opacity="0.8"/>
<rect x="361.1" y="148.8" width="0.9" height="0.9" fill="#e8e8e8" opacity="0.8"/>
<rect x="491.7" y="218.5" width="0.9" height="0.9" fill="#e8e8e8" opacity="0.8"/>
<rect x="373.1" y="152.5" width="0.9" height="0.9" fill="#e8e8e8" opacity="0.8"/>
<rect x="461.3" y="231.3" width="0.9" height="0.9" fill="#e8e8e8" opacity="0.8"/>
<rect x="363.6" y="232.4" width="0.9" height="0.9" fill="#e8e8e8" opacity="0.8"/>
<rect x="487.0" y="196.0" width="0.9" height="0.9" fill="#e8e8e8" opacity="0.8"/>
<rect x="404.1" y="143.5" width="0.9" height="0.9" fill="#e8e8e8" opacity="0.8"/>
<rect x="335.2" y="233.7" width="0.9" height="0.9" fill="#e8e8e8" opacity="0.8"/>
<rect x="371.1" y="206.6" width="0.9" height="0.9" fill="#e8e8e8" opacity="0.8"/>
<rect x="374.5" y="219.1" width="0.9" height="0.9" fill="#e8e8e8" opacity="0.8"/>
<rect x="435.6" y="163.4" width="0.9" height="0.9" fill="#e8e8e8" opacity="0.8"/>
<rect x="359.8" y="208.2" width="0.9" height="0.9" fill="#e8e8e8" opacity="0.8"/>
<rect x="340.6" y="156.6" width="0.9" height="0.9" fill="#e8e8e8" opacity="0.8"/>
<rect x="428.9" y="222.1" width="0.9" height="0.9" fill="#e8e8e8" opacity="0.8"/>
<rect x="438.8" y="162.0" width="0.9" height="0.9" fill="#e8e8e8" opacity="0.8"/>
<rect x="493.3" y="154.0" width="0.9" height="0.9" fill="#e8e8e8" opacity="0.8"/>
<rect x="331.2" y="160.9" width="0.9" height="0.9" fill="#e8e8e8" opacity="0.8"/>
<rect x="408.4" y="138.9" width="0.9" height="0.9" fill="#e8e8e8" opacity="0.8"/>
<rect x="359.9" y="171.3" width="0.9" height="0.9" fill="#e8e8e8" opacity="0.8"/>
<rect x="431.2" y="146.4" width="0.9" height="0.9" fill="#e8e8e8" opacity="0.8"/>
<rect x="393.4" y="226.1" width="0.9" height="0.9" fill="#e8e8e8" opacity="0.8"/>
<rect x="504.7" y="201.6" width="0.9" height="0.9" fill="#e8e8e8" opacity="0.8"/>
<rect x="452.6" y="194.0" width="0.9" height="0.9" fill="#e8e8e8" opacity="0.8"/>
<rect x="353.5" y="136.3" width="0.9" height="0.9" fill="#e8e8e8" opacity="0.8"/>
<rect x="331.4" y="228.2" width="0.9" height="0.9" fill="#e8e8e8" opacity="0.8"/>
<rect x="454.4" y="233.7" width="0.9" height="0.9" fill="#e8e8e8" opacity="0.8"/>
</g>
<g clip-path="url(#cD2)">
<rect x="323.2" y="246.5" width="189.6" height="120.3" fill="#262626"/>
<rect x="324.7" y="252.2" width="127.6" height="84.8" rx="4" fill="#8e8e8e" stroke="#b4b4b4" stroke-width="1"/>
<path d="M438.3,255.2 L447.3,261.2 V333.0" fill="none" stroke="#a8a8a8" stroke-width="0.8"/>
<rect x="327.2" y="254.7" width="120.6" height="79.8" rx="4" fill="#747474"/>
<rect x="347.4" y="274.8" width="79.8" height="39.5" fill="#7c7c7c"/>
<circle cx="347.4" cy="274.8" r="19.4" fill="#2c2c2c"/>
<circle cx="347.4" cy="274.8" r="17.6" fill="url(#wellg)"/>
<circle cx="347.4" cy="274.8" r="16.9" fill="none" stroke="#c8281e" stroke-width="1.1"/>
<circle cx="387.1" cy="274.8" r="19.4" fill="#2c2c2c"/>
<circle cx="387.1" cy="274.8" r="17.6" fill="url(#wellg)"/>
<circle cx="387.1" cy="274.8" r="16.9" fill="none" stroke="#c8281e" stroke-width="1.1"/>
<circle cx="427.2" cy="274.8" r="19.4" fill="#2c2c2c"/>
<circle cx="427.2" cy="274.8" r="17.6" fill="url(#wellg)"/>
<circle cx="427.2" cy="274.8" r="16.9" fill="none" stroke="#c8281e" stroke-width="1.1"/>
<circle cx="347.4" cy="314.3" r="19.4" fill="#2c2c2c"/>
<circle cx="347.4" cy="314.3" r="17.6" fill="url(#wellg)"/>
<circle cx="347.4" cy="314.3" r="16.9" fill="none" stroke="#c8281e" stroke-width="1.1"/>
<circle cx="387.1" cy="314.3" r="19.4" fill="#2c2c2c"/>
<circle cx="387.1" cy="314.3" r="17.6" fill="url(#wellg)"/>
<circle cx="387.1" cy="314.3" r="16.9" fill="none" stroke="#c8281e" stroke-width="1.1"/>
<circle cx="427.2" cy="314.3" r="19.4" fill="#2c2c2c"/>
<circle cx="427.2" cy="314.3" r="17.6" fill="url(#wellg)"/>
<line x1="347.4" y1="246.5" x2="347.4" y2="257.9" stroke="#c8281e" stroke-width="0.8"/>
<line x1="387.1" y1="246.5" x2="387.1" y2="257.9" stroke="#c8281e" stroke-width="0.8"/>
<line x1="427.2" y1="246.5" x2="427.2" y2="257.9" stroke="#c8281e" stroke-width="0.8"/>
<line x1="330.2" y1="292.4" x2="343.4" y2="292.4" stroke="#c8281e" stroke-width="0.8"/>
<circle cx="481.4" cy="276.3" r="29.5" fill="url(#dishg)"/>
<path d="M457.4,268.3 C465.4,262.3 473.4,268.3 481.4,262.3 C489.4,256.3 495.4,264.3 499.4,268.3 C503.4,272.3 505.4,266.3 501.4,262.3" fill="none" stroke="#a0a0a0" stroke-width="3.8" stroke-linecap="round" stroke-linejoin="round"/>
<path d="M457.4,268.3 C465.4,262.3 473.4,268.3 481.4,262.3 C489.4,256.3 495.4,264.3 499.4,268.3 C503.4,272.3 505.4,266.3 501.4,262.3" fill="none" stroke="#3e3e3e" stroke-width="2.4" stroke-linecap="round" stroke-linejoin="round"/>
<circle cx="481.4" cy="276.3" r="28.5" fill="none" stroke="#c8281e" stroke-width="1.1"/>
<circle cx="482.9" cy="337.2" r="29.5" fill="url(#dishg)"/>
<path d="M462.9,343.2 C458.9,331.2 468.9,317.2 474.9,327.2 C478.9,335.2 470.9,341.2 472.9,351.2 C474.9,359.2 484.9,355.2 482.9,345.2 C480.9,333.2 480.9,319.2 488.9,319.2 C496.9,319.2 492.9,333.2 488.9,341.2 C484.9,349.2 492.9,357.2 498.9,349.2 C504.9,341.2 496.9,329.2 502.9,323.2" fill="none" stroke="#a0a0a0" stroke-width="3.8" stroke-linecap="round" stroke-linejoin="round"/>
<path d="M462.9,343.2 C458.9,331.2 468.9,317.2 474.9,327.2 C478.9,335.2 470.9,341.2 472.9,351.2 C474.9,359.2 484.9,355.2 482.9,345.2 C480.9,333.2 480.9,319.2 488.9,319.2 C496.9,319.2 492.9,333.2 488.9,341.2 C484.9,349.2 492.9,357.2 498.9,349.2 C504.9,341.2 496.9,329.2 502.9,323.2" fill="none" stroke="#3e3e3e" stroke-width="2.4" stroke-linecap="round" stroke-linejoin="round"/>
<path d="M464.9,323.2 C472.9,315.2 486.9,313.2 496.9,317.2 M460.9,347.2 C468.9,357.2 478.9,361.2 490.9,359.2" fill="none" stroke="#a0a0a0" stroke-width="3.6" stroke-linecap="round" stroke-linejoin="round"/>
<path d="M464.9,323.2 C472.9,315.2 486.9,313.2 496.9,317.2 M460.9,347.2 C468.9,357.2 478.9,361.2 490.9,359.2" fill="none" stroke="#3e3e3e" stroke-width="2.2" stroke-linecap="round" stroke-linejoin="round"/>
<circle cx="482.9" cy="337.2" r="28.5" fill="none" stroke="#c8281e" stroke-width="1.1"/>
<line x1="483.2" y1="308.7" x2="512.8" y2="308.7" stroke="#c8281e" stroke-width="0.8"/>
<line x1="481.4" y1="246.5" x2="481.4" y2="247.9" stroke="#c8281e" stroke-width="0.8"/>
<path d="M383.2,270.5 c2,-2 6,-2 7,1 c1,3 3,5 1,7 c-2,2 -6,2 -8,0 c-1,-2 0,-5 0,-8z" fill="#3a30b8"/>
<ellipse cx="345.2" cy="276.5" rx="1.5" ry="2.5" fill="#3a30b8"/>
<rect x="322.9" y="286.1" width="7.5" height="7.5" fill="#fff" stroke="#f0a0a0" stroke-width="0.5"/>
<text x="326.6" y="291.9" font-size="5.4" text-anchor="middle" fill="#d03030">04</text>
<rect x="429.0" y="274.3" width="0.9" height="0.9" fill="#f0f0f0" opacity="0.85"/>
<rect x="440.0" y="276.7" width="0.9" height="0.9" fill="#f0f0f0" opacity="0.85"/>
<rect x="427.8" y="276.2" width="0.9" height="0.9" fill="#f0f0f0" opacity="0.85"/>
<rect x="424.6" y="271.1" width="0.9" height="0.9" fill="#f0f0f0" opacity="0.85"/>
<rect x="429.5" y="272.9" width="0.9" height="0.9" fill="#f0f0f0" opacity="0.85"/>
<rect x="431.2" y="273.8" width="0.9" height="0.9" fill="#f0f0f0" opacity="0.85"/>
<rect x="417.4" y="267.6" width="0.9" height="0.9" fill="#f0f0f0" opacity="0.85"/>
<rect x="422.4" y="263.8" width="0.9" height="0.9" fill="#f0f0f0" opacity="0.85"/>
<rect x="427.0" y="274.2" width="0.9" height="0.9" fill="#f0f0f0" opacity="0.85"/>
<rect x="432.8" y="269.6" width="0.9" height="0.9" fill="#f0f0f0" opacity="0.85"/>
<rect x="426.3" y="277.1" width="0.9" height="0.9" fill="#f0f0f0" opacity="0.85"/>
<rect x="431.6" y="268.7" width="0.9" height="0.9" fill="#f0f0f0" opacity="0.85"/>
<rect x="436.5" y="271.0" width="0.9" height="0.9" fill="#f0f0f0" opacity="0.85"/>
<rect x="434.3" y="273.0" width="0.9" height="0.9" fill="#f0f0f0" opacity="0.85"/>
<rect x="424.7" y="267.3" width="0.9" height="0.9" fill="#f0f0f0" opacity="0.85"/>
<rect x="426.5" y="287.2" width="0.9" height="0.9" fill="#f0f0f0" opacity="0.85"/>
<rect x="423.3" y="284.2" width="0.9" height="0.9" fill="#f0f0f0" opacity="0.85"/>
<rect x="435.3" y="272.4" width="0.9" height="0.9" fill="#f0f0f0" opacity="0.85"/>
<rect x="433.9" y="283.2" width="0.9" height="0.9" fill="#f0f0f0" opacity="0.85"/>
<rect x="426.0" y="272.7" width="0.9" height="0.9" fill="#f0f0f0" opacity="0.85"/>
<rect x="433.8" y="276.9" width="0.9" height="0.9" fill="#f0f0f0" opacity="0.85"/>
<rect x="439.0" y="277.2" width="0.9" height="0.9" fill="#f0f0f0" opacity="0.85"/>
<rect x="420.5" y="274.5" width="0.9" height="0.9" fill="#f0f0f0" opacity="0.85"/>
<rect x="420.0" y="279.4" width="0.9" height="0.9" fill="#f0f0f0" opacity="0.85"/>
<rect x="430.7" y="272.8" width="0.9" height="0.9" fill="#f0f0f0" opacity="0.85"/>
<rect x="421.9" y="280.2" width="0.9" height="0.9" fill="#f0f0f0" opacity="0.85"/>
<rect x="424.9" y="282.2" width="0.9" height="0.9" fill="#f0f0f0" opacity="0.85"/>
<rect x="421.8" y="273.3" width="0.9" height="0.9" fill="#f0f0f0" opacity="0.85"/>
<rect x="424.0" y="268.7" width="0.9" height="0.9" fill="#f0f0f0" opacity="0.85"/>
<rect x="438.2" y="281.6" width="0.9" height="0.9" fill="#f0f0f0" opacity="0.85"/>
<circle cx="424.8" cy="277.9" r="2.6" fill="#252525" opacity="0.8"/>
<circle cx="434.9" cy="271.1" r="2.8" fill="#252525" opacity="0.8"/>
<circle cx="426.5" cy="275.3" r="3.3" fill="#252525" opacity="0.8"/>
<circle cx="429.5" cy="279.1" r="2.5" fill="#252525" opacity="0.8"/>
<circle cx="425.7" cy="277.6" r="2.3" fill="#252525" opacity="0.8"/>
<circle cx="431.9" cy="275.9" r="3.2" fill="#252525" opacity="0.8"/>
<rect x="444.7" y="277.7" width="0.9" height="0.9" fill="#e8e8e8" opacity="0.8"/>
<rect x="453.1" y="262.0" width="0.9" height="0.9" fill="#e8e8e8" opacity="0.8"/>
<rect x="402.1" y="343.5" width="0.9" height="0.9" fill="#e8e8e8" opacity="0.8"/>
<rect x="494.0" y="304.9" width="0.9" height="0.9" fill="#e8e8e8" opacity="0.8"/>
<rect x="480.6" y="308.8" width="0.9" height="0.9" fill="#e8e8e8" opacity="0.8"/>
<rect x="422.5" y="317.9" width="0.9" height="0.9" fill="#e8e8e8" opacity="0.8"/>
<rect x="506.6" y="334.6" width="0.9" height="0.9" fill="#e8e8e8" opacity="0.8"/>
<rect x="413.3" y="332.9" width="0.9" height="0.9" fill="#e8e8e8" opacity="0.8"/>
<rect x="444.0" y="293.6" width="0.9" height="0.9" fill="#e8e8e8" opacity="0.8"/>
<rect x="469.4" y="342.6" width="0.9" height="0.9" fill="#e8e8e8" opacity="0.8"/>
<rect x="437.7" y="355.5" width="0.9" height="0.9" fill="#e8e8e8" opacity="0.8"/>
<rect x="331.5" y="309.0" width="0.9" height="0.9" fill="#e8e8e8" opacity="0.8"/>
<rect x="442.4" y="292.3" width="0.9" height="0.9" fill="#e8e8e8" opacity="0.8"/>
<rect x="359.0" y="329.2" width="0.9" height="0.9" fill="#e8e8e8" opacity="0.8"/>
<rect x="406.4" y="284.7" width="0.9" height="0.9" fill="#e8e8e8" opacity="0.8"/>
<rect x="335.7" y="358.0" width="0.9" height="0.9" fill="#e8e8e8" opacity="0.8"/>
<rect x="391.6" y="268.9" width="0.9" height="0.9" fill="#e8e8e8" opacity="0.8"/>
<rect x="367.1" y="283.3" width="0.9" height="0.9" fill="#e8e8e8" opacity="0.8"/>
<rect x="484.1" y="275.5" width="0.9" height="0.9" fill="#e8e8e8" opacity="0.8"/>
<rect x="377.9" y="266.7" width="0.9" height="0.9" fill="#e8e8e8" opacity="0.8"/>
<rect x="412.8" y="278.3" width="0.9" height="0.9" fill="#e8e8e8" opacity="0.8"/>
<rect x="390.1" y="333.7" width="0.9" height="0.9" fill="#e8e8e8" opacity="0.8"/>
<rect x="494.7" y="344.1" width="0.9" height="0.9" fill="#e8e8e8" opacity="0.8"/>
<rect x="335.1" y="296.2" width="0.9" height="0.9" fill="#e8e8e8" opacity="0.8"/>
<rect x="481.0" y="260.0" width="0.9" height="0.9" fill="#e8e8e8" opacity="0.8"/>
<rect x="364.8" y="307.9" width="0.9" height="0.9" fill="#e8e8e8" opacity="0.8"/>
<rect x="397.0" y="335.3" width="0.9" height="0.9" fill="#e8e8e8" opacity="0.8"/>
<rect x="457.5" y="305.3" width="0.9" height="0.9" fill="#e8e8e8" opacity="0.8"/>
<rect x="373.0" y="280.7" width="0.9" height="0.9" fill="#e8e8e8" opacity="0.8"/>
<rect x="376.1" y="263.3" width="0.9" height="0.9" fill="#e8e8e8" opacity="0.8"/>
<rect x="448.0" y="273.1" width="0.9" height="0.9" fill="#e8e8e8" opacity="0.8"/>
<rect x="488.3" y="324.3" width="0.9" height="0.9" fill="#e8e8e8" opacity="0.8"/>
<rect x="338.4" y="308.9" width="0.9" height="0.9" fill="#e8e8e8" opacity="0.8"/>
<rect x="436.9" y="260.9" width="0.9" height="0.9" fill="#e8e8e8" opacity="0.8"/>
<rect x="415.8" y="259.6" width="0.9" height="0.9" fill="#e8e8e8" opacity="0.8"/>
<rect x="466.1" y="256.9" width="0.9" height="0.9" fill="#e8e8e8" opacity="0.8"/>
<rect x="442.0" y="360.0" width="0.9" height="0.9" fill="#e8e8e8" opacity="0.8"/>
<rect x="480.5" y="281.0" width="0.9" height="0.9" fill="#e8e8e8" opacity="0.8"/>
<rect x="424.4" y="271.2" width="0.9" height="0.9" fill="#e8e8e8" opacity="0.8"/>
<rect x="389.8" y="347.2" width="0.9" height="0.9" fill="#e8e8e8" opacity="0.8"/>
</g>
<rect x="323.2" y="233.4" width="60.3" height="9.8" fill="#fff"/>
<text transform="translate(324.90,240.70) scale(1.0,1)" font-size="6.4" text-anchor="start" fill="#1a1a1a" font-weight="normal" stroke="#1a1a1a" stroke-width="0.1">IDOL.tg MDSC-IL13</text>
<rect x="323.2" y="357.5" width="80.6" height="9.3" fill="#fff"/>
<text transform="translate(324.90,364.60) scale(1.0,1)" font-size="6.4" text-anchor="start" fill="#1a1a1a" font-weight="normal" stroke="#1a1a1a" stroke-width="0.1">IDOL.tg MDSC-IL13 + Treg</text>
<text transform="translate(275.20,397.52) scale(1.0,1)" font-size="10.8" text-anchor="start" fill="#000" font-weight="bold" stroke="#000" stroke-width="0">E</text>
<line x1="327.6" y1="402.5" x2="327.6" y2="538.8000000000001" stroke="#222" stroke-width="1.1"/>
<line x1="327.1" y1="538.2" x2="500" y2="538.2" stroke="#222" stroke-width="1.3"/>
<line x1="324.8" y1="538.20" x2="327.6" y2="538.20" stroke="#222" stroke-width="0.9"/>
<text transform="translate(322.30,540.41) scale(1.05,1)" font-size="7.3" text-anchor="end" fill="#1a1a1a" font-weight="normal" stroke="#1a1a1a" stroke-width="0.1">0</text>
<line x1="324.8" y1="511.42" x2="327.6" y2="511.42" stroke="#222" stroke-width="0.9"/>
<text transform="translate(322.30,513.63) scale(1.05,1)" font-size="7.3" text-anchor="end" fill="#1a1a1a" font-weight="normal" stroke="#1a1a1a" stroke-width="0.1">200000</text>
<line x1="324.8" y1="484.64" x2="327.6" y2="484.64" stroke="#222" stroke-width="0.9"/>
<text transform="translate(322.30,486.85) scale(1.05,1)" font-size="7.3" text-anchor="end" fill="#1a1a1a" font-weight="normal" stroke="#1a1a1a" stroke-width="0.1">400000</text>
<line x1="324.8" y1="457.86" x2="327.6" y2="457.86" stroke="#222" stroke-width="0.9"/>
<text transform="translate(322.30,460.07) scale(1.05,1)" font-size="7.3" text-anchor="end" fill="#1a1a1a" font-weight="normal" stroke="#1a1a1a" stroke-width="0.1">600000</text>
<line x1="324.8" y1="431.08" x2="327.6" y2="431.08" stroke="#222" stroke-width="0.9"/>
<text transform="translate(322.30,433.29) scale(1.05,1)" font-size="7.3" text-anchor="end" fill="#1a1a1a" font-weight="normal" stroke="#1a1a1a" stroke-width="0.1">800000</text>
<line x1="324.8" y1="404.30" x2="327.6" y2="404.30" stroke="#222" stroke-width="0.9"/>
<text transform="translate(322.30,406.51) scale(1.05,1)" font-size="7.3" text-anchor="end" fill="#1a1a1a" font-weight="normal" stroke="#1a1a1a" stroke-width="0.1">1000000</text>
<text transform="translate(286.10,469.40) rotate(-90) scale(0.94,1)" font-size="8" text-anchor="middle" fill="#1a1a1a" font-weight="normal" stroke="#1a1a1a" stroke-width="0.1">p/sec/cm<tspan font-size="4.8" dy="-2.9">2</tspan><tspan dy="2.9">/sr</tspan></text>
<rect x="340.6" y="409.1" width="11.6" height="4.4" fill="#b8123c"/>
<text transform="translate(355.60,413.81) scale(1.03,1)" font-size="7.3" text-anchor="start" fill="#1a1a1a" font-weight="normal" stroke="#1a1a1a" stroke-width="0.1">No MDSC</text>
<rect x="340.6" y="419.0" width="11.6" height="4.4" fill="#1f3f7f"/>
<text transform="translate(355.60,423.71) scale(1.03,1)" font-size="7.3" text-anchor="start" fill="#1a1a1a" font-weight="normal" stroke="#1a1a1a" stroke-width="0.1">IDOL.tg MDSC</text>
<rect x="340.6" y="428.40000000000003" width="11.6" height="4.4" fill="#6db33f"/>
<text transform="translate(355.60,433.11) scale(1.03,1)" font-size="7.3" text-anchor="start" fill="#1a1a1a" font-weight="normal" stroke="#1a1a1a" stroke-width="0.1">IDOL MDSC + Treg</text>
<rect x="331.25" y="534.5" width="5.3" height="3.70" fill="#b8123c"/>
<line x1="333.90" y1="534.5" x2="333.90" y2="533" stroke="#222" stroke-width="0.8"/>
<line x1="332.60" y1="533" x2="335.20" y2="533" stroke="#222" stroke-width="0.9"/>
<rect x="337.95" y="511.3" width="5.3" height="26.90" fill="#1f3f7f"/>
<line x1="340.60" y1="511.3" x2="340.60" y2="504.5" stroke="#222" stroke-width="0.8"/>
<line x1="339.30" y1="504.5" x2="341.90" y2="504.5" stroke="#222" stroke-width="0.9"/>
<rect x="344.65" y="523.3" width="5.3" height="14.90" fill="#6db33f"/>
<line x1="347.30" y1="523.3" x2="347.30" y2="515" stroke="#222" stroke-width="0.8"/>
<line x1="346.00" y1="515" x2="348.60" y2="515" stroke="#222" stroke-width="0.9"/>
<line x1="340.60" y1="538.2" x2="340.60" y2="541.0" stroke="#222" stroke-width="0.9"/>
<text transform="translate(344.80,545.8000000000001) rotate(-45)" font-size="8.1" text-anchor="end" fill="#1a1a1a">Spleen</text>
<rect x="355.60" y="535.5" width="5.3" height="2.70" fill="#b8123c"/>
<line x1="358.25" y1="535.5" x2="358.25" y2="534.5" stroke="#222" stroke-width="0.8"/>
<line x1="356.95" y1="534.5" x2="359.55" y2="534.5" stroke="#222" stroke-width="0.9"/>
<rect x="362.30" y="501.3" width="5.3" height="36.90" fill="#1f3f7f"/>
<line x1="364.95" y1="501.3" x2="364.95" y2="483" stroke="#222" stroke-width="0.8"/>
<line x1="363.65" y1="483" x2="366.25" y2="483" stroke="#222" stroke-width="0.9"/>
<rect x="369.00" y="508" width="5.3" height="30.20" fill="#6db33f"/>
<line x1="371.65" y1="508" x2="371.65" y2="490" stroke="#222" stroke-width="0.8"/>
<line x1="370.35" y1="490" x2="372.95" y2="490" stroke="#222" stroke-width="0.9"/>
<line x1="364.95" y1="538.2" x2="364.95" y2="541.0" stroke="#222" stroke-width="0.9"/>
<text transform="translate(369.15,545.8000000000001) rotate(-45)" font-size="8.1" text-anchor="end" fill="#1a1a1a">Lung</text>
<rect x="379.95" y="535" width="5.3" height="3.20" fill="#b8123c"/>
<line x1="382.60" y1="535" x2="382.60" y2="532.5" stroke="#222" stroke-width="0.8"/>
<line x1="381.30" y1="532.5" x2="383.90" y2="532.5" stroke="#222" stroke-width="0.9"/>
<rect x="386.65" y="525" width="5.3" height="13.20" fill="#1f3f7f"/>
<line x1="389.30" y1="525" x2="389.30" y2="519.3" stroke="#222" stroke-width="0.8"/>
<line x1="388.00" y1="519.3" x2="390.60" y2="519.3" stroke="#222" stroke-width="0.9"/>
<rect x="393.35" y="533" width="5.3" height="5.20" fill="#6db33f"/>
<line x1="396.00" y1="533" x2="396.00" y2="531.8" stroke="#222" stroke-width="0.8"/>
<line x1="394.70" y1="531.8" x2="397.30" y2="531.8" stroke="#222" stroke-width="0.9"/>
<line x1="389.30" y1="538.2" x2="389.30" y2="541.0" stroke="#222" stroke-width="0.9"/>
<text transform="translate(393.50,545.8000000000001) rotate(-45)" font-size="8.1" text-anchor="end" fill="#1a1a1a">Liver</text>
<rect x="404.30" y="535" width="5.3" height="3.20" fill="#b8123c"/>
<line x1="406.95" y1="535" x2="406.95" y2="534" stroke="#222" stroke-width="0.8"/>
<line x1="405.65" y1="534" x2="408.25" y2="534" stroke="#222" stroke-width="0.9"/>
<rect x="411.00" y="533.8" width="5.3" height="4.40" fill="#1f3f7f"/>
<line x1="413.65" y1="533.8" x2="413.65" y2="531.8" stroke="#222" stroke-width="0.8"/>
<line x1="412.35" y1="531.8" x2="414.95" y2="531.8" stroke="#222" stroke-width="0.9"/>
<rect x="417.70" y="533.8" width="5.3" height="4.40" fill="#6db33f"/>
<line x1="420.35" y1="533.8" x2="420.35" y2="531.5" stroke="#222" stroke-width="0.8"/>
<line x1="419.05" y1="531.5" x2="421.65" y2="531.5" stroke="#222" stroke-width="0.9"/>
<line x1="413.65" y1="538.2" x2="413.65" y2="541.0" stroke="#222" stroke-width="0.9"/>
<text transform="translate(417.85,545.8000000000001) rotate(-45)" font-size="8.1" text-anchor="end" fill="#1a1a1a">mLN</text>
<rect x="428.65" y="536.5" width="5.3" height="1.70" fill="#b8123c"/>
<line x1="431.30" y1="536.5" x2="431.30" y2="536" stroke="#222" stroke-width="0.8"/>
<line x1="430.00" y1="536" x2="432.60" y2="536" stroke="#222" stroke-width="0.9"/>
<rect x="435.35" y="535.5" width="5.3" height="2.70" fill="#1f3f7f"/>
<line x1="438.00" y1="535.5" x2="438.00" y2="534.5" stroke="#222" stroke-width="0.8"/>
<line x1="436.70" y1="534.5" x2="439.30" y2="534.5" stroke="#222" stroke-width="0.9"/>
<rect x="442.05" y="535.6" width="5.3" height="2.60" fill="#6db33f"/>
<line x1="444.70" y1="535.6" x2="444.70" y2="534.2" stroke="#222" stroke-width="0.8"/>
<line x1="443.40" y1="534.2" x2="446.00" y2="534.2" stroke="#222" stroke-width="0.9"/>
<line x1="438.00" y1="538.2" x2="438.00" y2="541.0" stroke="#222" stroke-width="0.9"/>
<text transform="translate(442.20,545.8000000000001) rotate(-45)" font-size="8.1" text-anchor="end" fill="#1a1a1a">pLN</text>
<rect x="453.00" y="531.8" width="5.3" height="6.40" fill="#b8123c"/>
<line x1="455.65" y1="531.8" x2="455.65" y2="529" stroke="#222" stroke-width="0.8"/>
<line x1="454.35" y1="529" x2="456.95" y2="529" stroke="#222" stroke-width="0.9"/>
<rect x="459.70" y="445.3" width="5.3" height="92.90" fill="#1f3f7f"/>
<line x1="462.35" y1="445.3" x2="462.35" y2="427.6" stroke="#222" stroke-width="0.8"/>
<line x1="461.05" y1="427.6" x2="463.65" y2="427.6" stroke="#222" stroke-width="0.9"/>
<rect x="466.40" y="510.5" width="5.3" height="27.70" fill="#6db33f"/>
<line x1="469.05" y1="510.5" x2="469.05" y2="497.2" stroke="#222" stroke-width="0.8"/>
<line x1="467.75" y1="497.2" x2="470.35" y2="497.2" stroke="#222" stroke-width="0.9"/>
<line x1="462.35" y1="538.2" x2="462.35" y2="541.0" stroke="#222" stroke-width="0.9"/>
<text transform="translate(466.55,545.8000000000001) rotate(-45)" font-size="8.1" text-anchor="end" fill="#1a1a1a">Colon</text>
<rect x="477.35" y="532.6" width="5.3" height="5.60" fill="#b8123c"/>
<line x1="480.00" y1="532.6" x2="480.00" y2="530.8" stroke="#222" stroke-width="0.8"/>
<line x1="478.70" y1="530.8" x2="481.30" y2="530.8" stroke="#222" stroke-width="0.9"/>
<rect x="484.05" y="457.1" width="5.3" height="81.10" fill="#1f3f7f"/>
<line x1="486.70" y1="457.1" x2="486.70" y2="454.2" stroke="#222" stroke-width="0.8"/>
<line x1="485.40" y1="454.2" x2="488.00" y2="454.2" stroke="#222" stroke-width="0.9"/>
<rect x="490.75" y="505.6" width="5.3" height="32.60" fill="#6db33f"/>
<line x1="493.40" y1="505.6" x2="493.40" y2="491" stroke="#222" stroke-width="0.8"/>
<line x1="492.10" y1="491" x2="494.70" y2="491" stroke="#222" stroke-width="0.9"/>
<line x1="486.70" y1="538.2" x2="486.70" y2="541.0" stroke="#222" stroke-width="0.9"/>
<text transform="translate(490.90,545.8000000000001) rotate(-45)" font-size="8.1" text-anchor="end" fill="#1a1a1a">Sm Int.</text>
<path d="M462,421.9 V425.1 M462,423.5 H469.7 M469.7,421.9 V425.1" stroke="#222" stroke-width="0.9" fill="none"/>
<text x="465.7" y="424.0" font-size="8.2" text-anchor="middle" fill="#1a1a1a">**</text>
<path d="M486.3,448.0 V451.20000000000005 M486.3,449.6 H493.8 M493.8,448.0 V451.20000000000005" stroke="#222" stroke-width="0.9" fill="none"/>
<text x="490.1" y="450.2" font-size="8.2" text-anchor="middle" fill="#1a1a1a">**</text>
<rect x="0.5" y="0.5" width="518.8" height="624.8" fill="none" stroke="#000" stroke-width="1.3"/>
</svg></body></html>
